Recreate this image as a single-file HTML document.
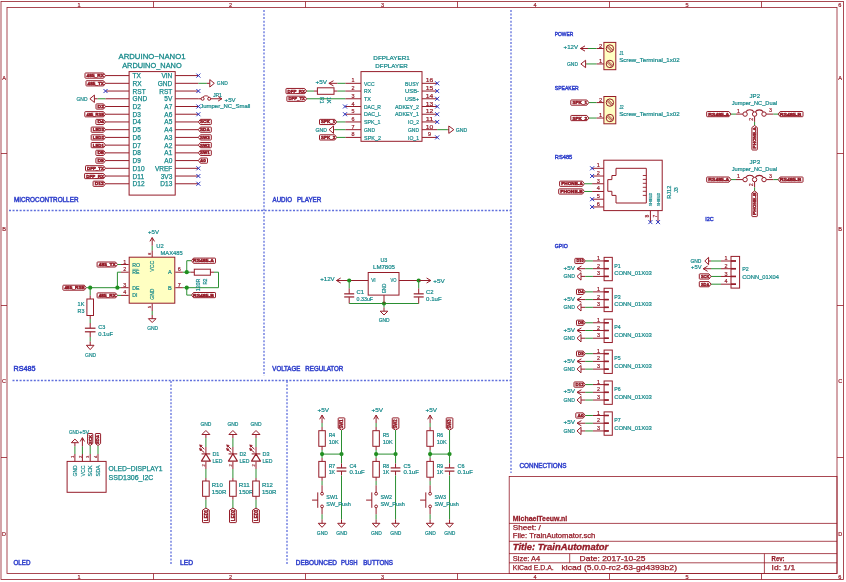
<!DOCTYPE html>
<html><head><meta charset="utf-8"><style>
html,body{margin:0;padding:0;background:#fff;width:846px;height:582px;overflow:hidden}
svg{display:block;will-change:transform}
text{font-family:"Liberation Sans",sans-serif}
</style></head><body>
<svg width="846" height="582" viewBox="0 0 846 582">
<rect x="0" y="0" width="846" height="582" fill="#fff"/>
<rect x="1" y="1.5" width="842.5" height="578" stroke="#951c28" stroke-width="0.8" fill="none" rx="0"/>
<rect x="7" y="7.5" width="830" height="566" stroke="#951c28" stroke-width="0.8" fill="none" rx="0"/>
<line x1="153.5" y1="1.5" x2="153.5" y2="7.5" stroke="#951c28" stroke-width="0.8"/>
<line x1="153.5" y1="573.5" x2="153.5" y2="579.5" stroke="#951c28" stroke-width="0.8"/>
<line x1="305.5" y1="1.5" x2="305.5" y2="7.5" stroke="#951c28" stroke-width="0.8"/>
<line x1="305.5" y1="573.5" x2="305.5" y2="579.5" stroke="#951c28" stroke-width="0.8"/>
<line x1="457.5" y1="1.5" x2="457.5" y2="7.5" stroke="#951c28" stroke-width="0.8"/>
<line x1="457.5" y1="573.5" x2="457.5" y2="579.5" stroke="#951c28" stroke-width="0.8"/>
<line x1="609.5" y1="1.5" x2="609.5" y2="7.5" stroke="#951c28" stroke-width="0.8"/>
<line x1="609.5" y1="573.5" x2="609.5" y2="579.5" stroke="#951c28" stroke-width="0.8"/>
<line x1="761.5" y1="1.5" x2="761.5" y2="7.5" stroke="#951c28" stroke-width="0.8"/>
<line x1="761.5" y1="573.5" x2="761.5" y2="579.5" stroke="#951c28" stroke-width="0.8"/>
<text x="79" y="6.6" font-size="5.56" fill="#951c28" text-anchor="middle" stroke="#951c28" stroke-width="0.2">1</text>
<text x="79" y="578.5" font-size="5.56" fill="#951c28" text-anchor="middle" stroke="#951c28" stroke-width="0.2">1</text>
<text x="230.5" y="6.6" font-size="5.56" fill="#951c28" text-anchor="middle" stroke="#951c28" stroke-width="0.2">2</text>
<text x="230.5" y="578.5" font-size="5.56" fill="#951c28" text-anchor="middle" stroke="#951c28" stroke-width="0.2">2</text>
<text x="382.5" y="6.6" font-size="5.56" fill="#951c28" text-anchor="middle" stroke="#951c28" stroke-width="0.2">3</text>
<text x="382.5" y="578.5" font-size="5.56" fill="#951c28" text-anchor="middle" stroke="#951c28" stroke-width="0.2">3</text>
<text x="535" y="6.6" font-size="5.56" fill="#951c28" text-anchor="middle" stroke="#951c28" stroke-width="0.2">4</text>
<text x="535" y="578.5" font-size="5.56" fill="#951c28" text-anchor="middle" stroke="#951c28" stroke-width="0.2">4</text>
<text x="687" y="6.6" font-size="5.56" fill="#951c28" text-anchor="middle" stroke="#951c28" stroke-width="0.2">5</text>
<text x="687" y="578.5" font-size="5.56" fill="#951c28" text-anchor="middle" stroke="#951c28" stroke-width="0.2">5</text>
<text x="839.7" y="6.6" font-size="5.56" fill="#951c28" text-anchor="middle" stroke="#951c28" stroke-width="0.2">6</text>
<text x="839.7" y="578.5" font-size="5.56" fill="#951c28" text-anchor="middle" stroke="#951c28" stroke-width="0.2">6</text>
<line x1="1" y1="153.5" x2="7" y2="153.5" stroke="#951c28" stroke-width="0.8"/>
<line x1="837" y1="153.5" x2="843.5" y2="153.5" stroke="#951c28" stroke-width="0.8"/>
<line x1="1" y1="305.5" x2="7" y2="305.5" stroke="#951c28" stroke-width="0.8"/>
<line x1="837" y1="305.5" x2="843.5" y2="305.5" stroke="#951c28" stroke-width="0.8"/>
<line x1="1" y1="457.5" x2="7" y2="457.5" stroke="#951c28" stroke-width="0.8"/>
<line x1="837" y1="457.5" x2="843.5" y2="457.5" stroke="#951c28" stroke-width="0.8"/>
<text x="4.1" y="79.5" font-size="5.56" fill="#951c28" text-anchor="middle" stroke="#951c28" stroke-width="0.2">A</text>
<text x="840.2" y="79.5" font-size="5.56" fill="#951c28" text-anchor="middle" stroke="#951c28" stroke-width="0.2">A</text>
<text x="4.1" y="230.5" font-size="5.56" fill="#951c28" text-anchor="middle" stroke="#951c28" stroke-width="0.2">B</text>
<text x="840.2" y="230.5" font-size="5.56" fill="#951c28" text-anchor="middle" stroke="#951c28" stroke-width="0.2">B</text>
<text x="4.1" y="383" font-size="5.56" fill="#951c28" text-anchor="middle" stroke="#951c28" stroke-width="0.2">C</text>
<text x="840.2" y="383" font-size="5.56" fill="#951c28" text-anchor="middle" stroke="#951c28" stroke-width="0.2">C</text>
<text x="4.1" y="535.5" font-size="5.56" fill="#951c28" text-anchor="middle" stroke="#951c28" stroke-width="0.2">D</text>
<text x="840.2" y="535.5" font-size="5.56" fill="#951c28" text-anchor="middle" stroke="#951c28" stroke-width="0.2">D</text>
<line x1="9" y1="210.5" x2="511" y2="210.5" stroke="#5f6fdc" stroke-width="1.3" stroke-dasharray="2,1.55"/>
<line x1="264" y1="10" x2="264" y2="376" stroke="#5f6fdc" stroke-width="1.3" stroke-dasharray="2,1.55"/>
<line x1="511" y1="10" x2="511" y2="473" stroke="#5f6fdc" stroke-width="1.3" stroke-dasharray="2,1.55"/>
<line x1="12.5" y1="380.5" x2="511" y2="380.5" stroke="#5f6fdc" stroke-width="1.3" stroke-dasharray="2,1.55"/>
<line x1="171" y1="381" x2="171" y2="565" stroke="#5f6fdc" stroke-width="1.3" stroke-dasharray="2,1.55"/>
<line x1="287" y1="381" x2="287" y2="565" stroke="#5f6fdc" stroke-width="1.3" stroke-dasharray="2,1.55"/>
<text x="13.9" y="201.5" font-size="6.39" fill="#3343cc" text-anchor="start" textLength="64.6" lengthAdjust="spacingAndGlyphs" stroke="#3343cc" stroke-width="0.45">MICROCONTROLLER</text>
<text x="272.6" y="201.5" font-size="6.39" fill="#3343cc" text-anchor="start" textLength="19.4" lengthAdjust="spacingAndGlyphs" stroke="#3343cc" stroke-width="0.45">AUDIO</text>
<text x="296.9" y="201.5" font-size="6.39" fill="#3343cc" text-anchor="start" textLength="24.5" lengthAdjust="spacingAndGlyphs" stroke="#3343cc" stroke-width="0.45">PLAYER</text>
<text x="13.5" y="371.1" font-size="6.39" fill="#3343cc" text-anchor="start" textLength="22" lengthAdjust="spacingAndGlyphs" stroke="#3343cc" stroke-width="0.45">RS485</text>
<text x="272.3" y="371.1" font-size="6.39" fill="#3343cc" text-anchor="start" textLength="28" lengthAdjust="spacingAndGlyphs" stroke="#3343cc" stroke-width="0.45">VOLTAGE</text>
<text x="305.3" y="371.1" font-size="6.39" fill="#3343cc" text-anchor="start" textLength="38" lengthAdjust="spacingAndGlyphs" stroke="#3343cc" stroke-width="0.45">REGULATOR</text>
<text x="13.5" y="564.6" font-size="6.39" fill="#3343cc" text-anchor="start" textLength="17" lengthAdjust="spacingAndGlyphs" stroke="#3343cc" stroke-width="0.45">OLED</text>
<text x="180" y="564.6" font-size="6.39" fill="#3343cc" text-anchor="start" textLength="13" lengthAdjust="spacingAndGlyphs" stroke="#3343cc" stroke-width="0.45">LED</text>
<text x="295.8" y="564.6" font-size="6.39" fill="#3343cc" text-anchor="start" textLength="41" lengthAdjust="spacingAndGlyphs" stroke="#3343cc" stroke-width="0.45">DEBOUNCED</text>
<text x="340.9" y="564.6" font-size="6.39" fill="#3343cc" text-anchor="start" textLength="16.7" lengthAdjust="spacingAndGlyphs" stroke="#3343cc" stroke-width="0.45">PUSH</text>
<text x="363.2" y="564.6" font-size="6.39" fill="#3343cc" text-anchor="start" textLength="29.8" lengthAdjust="spacingAndGlyphs" stroke="#3343cc" stroke-width="0.45">BUTTONS</text>
<text x="519.5" y="467.8" font-size="6.39" fill="#3343cc" text-anchor="start" textLength="47" lengthAdjust="spacingAndGlyphs" stroke="#3343cc" stroke-width="0.45">CONNECTIONS</text>
<rect x="509.2" y="476.5" width="327.8" height="97" stroke="#951c28" stroke-width="0.8" fill="none" rx="0"/>
<line x1="509" y1="523.4" x2="837" y2="523.4" stroke="#951c28" stroke-width="0.8"/>
<line x1="509" y1="541.3" x2="837" y2="541.3" stroke="#951c28" stroke-width="0.8"/>
<line x1="509" y1="553.6" x2="837" y2="553.6" stroke="#951c28" stroke-width="0.8"/>
<line x1="509" y1="562.8" x2="837" y2="562.8" stroke="#951c28" stroke-width="0.8"/>
<line x1="569.7" y1="553.6" x2="569.7" y2="562.8" stroke="#951c28" stroke-width="0.8"/>
<line x1="764.4" y1="553.6" x2="764.4" y2="573.5" stroke="#951c28" stroke-width="0.8"/>
<text x="512.8" y="520.9" font-size="7.22" fill="#951c28" text-anchor="start" textLength="54.5" lengthAdjust="spacingAndGlyphs" font-weight="bold" stroke="#951c28" stroke-width="0.26">MichaelTeeuw.nl</text>
<text x="512.8" y="530.4" font-size="6.94" fill="#951c28" text-anchor="start" textLength="28" lengthAdjust="spacingAndGlyphs" stroke="#951c28" stroke-width="0.25">Sheet: /</text>
<text x="512.8" y="538.2" font-size="6.94" fill="#951c28" text-anchor="start" textLength="82.5" lengthAdjust="spacingAndGlyphs" stroke="#951c28" stroke-width="0.25">File: TrainAutomator.sch</text>
<text x="512.8" y="550.4" font-size="9.44" fill="#951c28" text-anchor="start" textLength="95.5" lengthAdjust="spacingAndGlyphs" font-weight="bold" font-style="italic" stroke="#951c28" stroke-width="0.34">Title: TrainAutomator</text>
<text x="512.8" y="560.7" font-size="6.94" fill="#951c28" text-anchor="start" textLength="27.5" lengthAdjust="spacingAndGlyphs" stroke="#951c28" stroke-width="0.25">Size: A4</text>
<text x="579.6" y="560.7" font-size="6.94" fill="#951c28" text-anchor="start" textLength="65.8" lengthAdjust="spacingAndGlyphs" stroke="#951c28" stroke-width="0.25">Date: 2017-10-25</text>
<text x="512.8" y="569.5" font-size="6.94" fill="#951c28" text-anchor="start" textLength="41" lengthAdjust="spacingAndGlyphs" stroke="#951c28" stroke-width="0.25">KiCad E.D.A.</text>
<text x="561.5" y="569.5" font-size="6.94" fill="#951c28" text-anchor="start" textLength="115.5" lengthAdjust="spacingAndGlyphs" stroke="#951c28" stroke-width="0.25">kicad (5.0.0-rc2-63-gd4393b2)</text>
<text x="771.6" y="560.8" font-size="6.94" fill="#951c28" text-anchor="start" textLength="13" lengthAdjust="spacingAndGlyphs" font-weight="bold" stroke="#951c28" stroke-width="0.25">Rev:</text>
<text x="771.6" y="569.5" font-size="6.94" fill="#951c28" text-anchor="start" textLength="23.5" lengthAdjust="spacingAndGlyphs" stroke="#951c28" stroke-width="0.25">Id: 1/1</text>
<rect x="129.1" y="71.6" width="46.1" height="123.5" stroke="#951c28" stroke-width="1" fill="none" rx="0"/>
<text x="152" y="58.8" font-size="7.22" fill="#16898a" text-anchor="middle" textLength="67" lengthAdjust="spacingAndGlyphs" stroke="#16898a" stroke-width="0.26">ARDUINO−NANO1</text>
<text x="151.9" y="67.5" font-size="7.22" fill="#16898a" text-anchor="middle" textLength="59.5" lengthAdjust="spacingAndGlyphs" stroke="#16898a" stroke-width="0.26">ARDUINO_NANO</text>
<line x1="105.5" y1="75.59" x2="129.1" y2="75.59" stroke="#951c28" stroke-width="1"/>
<line x1="175.3" y1="75.59" x2="198.4" y2="75.59" stroke="#951c28" stroke-width="1"/>
<text x="132.6" y="78.09" font-size="6.94" fill="#16898a" text-anchor="start" textLength="8.34" lengthAdjust="spacingAndGlyphs" stroke="#16898a" stroke-width="0.25">TX</text>
<text x="172.3" y="78.09" font-size="6.94" fill="#16898a" text-anchor="end" textLength="10.88" lengthAdjust="spacingAndGlyphs" stroke="#16898a" stroke-width="0.25">VIN</text>
<line x1="105.5" y1="83.32" x2="129.1" y2="83.32" stroke="#951c28" stroke-width="1"/>
<line x1="175.3" y1="83.32" x2="198.4" y2="83.32" stroke="#951c28" stroke-width="1"/>
<text x="132.6" y="85.82" font-size="6.94" fill="#16898a" text-anchor="start" textLength="9.07" lengthAdjust="spacingAndGlyphs" stroke="#16898a" stroke-width="0.25">RX</text>
<text x="172.3" y="85.82" font-size="6.94" fill="#16898a" text-anchor="end" textLength="14.51" lengthAdjust="spacingAndGlyphs" stroke="#16898a" stroke-width="0.25">GND</text>
<line x1="105.5" y1="91.04" x2="129.1" y2="91.04" stroke="#951c28" stroke-width="1"/>
<line x1="175.3" y1="91.04" x2="198.4" y2="91.04" stroke="#951c28" stroke-width="1"/>
<text x="132.6" y="93.54" font-size="6.94" fill="#16898a" text-anchor="start" textLength="13.06" lengthAdjust="spacingAndGlyphs" stroke="#16898a" stroke-width="0.25">RST</text>
<text x="172.3" y="93.54" font-size="6.94" fill="#16898a" text-anchor="end" textLength="13.06" lengthAdjust="spacingAndGlyphs" stroke="#16898a" stroke-width="0.25">RST</text>
<line x1="105.5" y1="98.77" x2="129.1" y2="98.77" stroke="#951c28" stroke-width="1"/>
<line x1="175.3" y1="98.77" x2="198.4" y2="98.77" stroke="#951c28" stroke-width="1"/>
<text x="132.6" y="101.27" font-size="6.94" fill="#16898a" text-anchor="start" textLength="14.51" lengthAdjust="spacingAndGlyphs" stroke="#16898a" stroke-width="0.25">GND</text>
<text x="172.3" y="101.27" font-size="6.94" fill="#16898a" text-anchor="end" textLength="7.98" lengthAdjust="spacingAndGlyphs" stroke="#16898a" stroke-width="0.25">5V</text>
<line x1="105.5" y1="106.5" x2="129.1" y2="106.5" stroke="#951c28" stroke-width="1"/>
<line x1="175.3" y1="106.5" x2="198.4" y2="106.5" stroke="#951c28" stroke-width="1"/>
<text x="132.6" y="109" font-size="6.94" fill="#16898a" text-anchor="start" textLength="8.34" lengthAdjust="spacingAndGlyphs" stroke="#16898a" stroke-width="0.25">D2</text>
<text x="172.3" y="109" font-size="6.94" fill="#16898a" text-anchor="end" textLength="7.98" lengthAdjust="spacingAndGlyphs" stroke="#16898a" stroke-width="0.25">A7</text>
<line x1="105.5" y1="114.23" x2="129.1" y2="114.23" stroke="#951c28" stroke-width="1"/>
<line x1="175.3" y1="114.23" x2="198.4" y2="114.23" stroke="#951c28" stroke-width="1"/>
<text x="132.6" y="116.73" font-size="6.94" fill="#16898a" text-anchor="start" textLength="8.34" lengthAdjust="spacingAndGlyphs" stroke="#16898a" stroke-width="0.25">D3</text>
<text x="172.3" y="116.73" font-size="6.94" fill="#16898a" text-anchor="end" textLength="7.98" lengthAdjust="spacingAndGlyphs" stroke="#16898a" stroke-width="0.25">A6</text>
<line x1="105.5" y1="121.95" x2="129.1" y2="121.95" stroke="#951c28" stroke-width="1"/>
<line x1="175.3" y1="121.95" x2="198.4" y2="121.95" stroke="#951c28" stroke-width="1"/>
<text x="132.6" y="124.45" font-size="6.94" fill="#16898a" text-anchor="start" textLength="8.34" lengthAdjust="spacingAndGlyphs" stroke="#16898a" stroke-width="0.25">D4</text>
<text x="172.3" y="124.45" font-size="6.94" fill="#16898a" text-anchor="end" textLength="7.98" lengthAdjust="spacingAndGlyphs" stroke="#16898a" stroke-width="0.25">A5</text>
<line x1="105.5" y1="129.68" x2="129.1" y2="129.68" stroke="#951c28" stroke-width="1"/>
<line x1="175.3" y1="129.68" x2="198.4" y2="129.68" stroke="#951c28" stroke-width="1"/>
<text x="132.6" y="132.18" font-size="6.94" fill="#16898a" text-anchor="start" textLength="8.34" lengthAdjust="spacingAndGlyphs" stroke="#16898a" stroke-width="0.25">D5</text>
<text x="172.3" y="132.18" font-size="6.94" fill="#16898a" text-anchor="end" textLength="7.98" lengthAdjust="spacingAndGlyphs" stroke="#16898a" stroke-width="0.25">A4</text>
<line x1="105.5" y1="137.41" x2="129.1" y2="137.41" stroke="#951c28" stroke-width="1"/>
<line x1="175.3" y1="137.41" x2="198.4" y2="137.41" stroke="#951c28" stroke-width="1"/>
<text x="132.6" y="139.91" font-size="6.94" fill="#16898a" text-anchor="start" textLength="8.34" lengthAdjust="spacingAndGlyphs" stroke="#16898a" stroke-width="0.25">D6</text>
<text x="172.3" y="139.91" font-size="6.94" fill="#16898a" text-anchor="end" textLength="7.98" lengthAdjust="spacingAndGlyphs" stroke="#16898a" stroke-width="0.25">A3</text>
<line x1="105.5" y1="145.13" x2="129.1" y2="145.13" stroke="#951c28" stroke-width="1"/>
<line x1="175.3" y1="145.13" x2="198.4" y2="145.13" stroke="#951c28" stroke-width="1"/>
<text x="132.6" y="147.63" font-size="6.94" fill="#16898a" text-anchor="start" textLength="8.34" lengthAdjust="spacingAndGlyphs" stroke="#16898a" stroke-width="0.25">D7</text>
<text x="172.3" y="147.63" font-size="6.94" fill="#16898a" text-anchor="end" textLength="7.98" lengthAdjust="spacingAndGlyphs" stroke="#16898a" stroke-width="0.25">A2</text>
<line x1="105.5" y1="152.86" x2="129.1" y2="152.86" stroke="#951c28" stroke-width="1"/>
<line x1="175.3" y1="152.86" x2="198.4" y2="152.86" stroke="#951c28" stroke-width="1"/>
<text x="132.6" y="155.36" font-size="6.94" fill="#16898a" text-anchor="start" textLength="8.34" lengthAdjust="spacingAndGlyphs" stroke="#16898a" stroke-width="0.25">D8</text>
<text x="172.3" y="155.36" font-size="6.94" fill="#16898a" text-anchor="end" textLength="7.98" lengthAdjust="spacingAndGlyphs" stroke="#16898a" stroke-width="0.25">A1</text>
<line x1="105.5" y1="160.59" x2="129.1" y2="160.59" stroke="#951c28" stroke-width="1"/>
<line x1="175.3" y1="160.59" x2="198.4" y2="160.59" stroke="#951c28" stroke-width="1"/>
<text x="132.6" y="163.09" font-size="6.94" fill="#16898a" text-anchor="start" textLength="8.34" lengthAdjust="spacingAndGlyphs" stroke="#16898a" stroke-width="0.25">D9</text>
<text x="172.3" y="163.09" font-size="6.94" fill="#16898a" text-anchor="end" textLength="7.98" lengthAdjust="spacingAndGlyphs" stroke="#16898a" stroke-width="0.25">A0</text>
<line x1="105.5" y1="168.31" x2="129.1" y2="168.31" stroke="#951c28" stroke-width="1"/>
<line x1="175.3" y1="168.31" x2="198.4" y2="168.31" stroke="#951c28" stroke-width="1"/>
<text x="132.6" y="170.81" font-size="6.94" fill="#16898a" text-anchor="start" textLength="11.98" lengthAdjust="spacingAndGlyphs" stroke="#16898a" stroke-width="0.25">D10</text>
<text x="172.3" y="170.81" font-size="6.94" fill="#16898a" text-anchor="end" textLength="17.41" lengthAdjust="spacingAndGlyphs" stroke="#16898a" stroke-width="0.25">VREF</text>
<line x1="105.5" y1="176.04" x2="129.1" y2="176.04" stroke="#951c28" stroke-width="1"/>
<line x1="175.3" y1="176.04" x2="198.4" y2="176.04" stroke="#951c28" stroke-width="1"/>
<text x="132.6" y="178.54" font-size="6.94" fill="#16898a" text-anchor="start" textLength="11.49" lengthAdjust="spacingAndGlyphs" stroke="#16898a" stroke-width="0.25">D11</text>
<text x="172.3" y="178.54" font-size="6.94" fill="#16898a" text-anchor="end" textLength="11.62" lengthAdjust="spacingAndGlyphs" stroke="#16898a" stroke-width="0.25">3V3</text>
<line x1="105.5" y1="183.77" x2="129.1" y2="183.77" stroke="#951c28" stroke-width="1"/>
<line x1="175.3" y1="183.77" x2="198.4" y2="183.77" stroke="#951c28" stroke-width="1"/>
<text x="132.6" y="186.27" font-size="6.94" fill="#16898a" text-anchor="start" textLength="11.98" lengthAdjust="spacingAndGlyphs" stroke="#16898a" stroke-width="0.25">D12</text>
<text x="172.3" y="186.27" font-size="6.94" fill="#16898a" text-anchor="end" textLength="11.98" lengthAdjust="spacingAndGlyphs" stroke="#16898a" stroke-width="0.25">D13</text>
<path d="M85.6,72.99 L103.5,72.99 L105.5,75.59 L103.5,78.19 L85.6,78.19 Q85,78.19 85,77.59 L85,73.59 Q85,72.99 85.6,72.99 Z" stroke="#951c28" stroke-width="1" fill="none" stroke-linejoin="round"/>
<text x="95.25" y="77.05" font-size="4.04" fill="#951c28" text-anchor="middle" textLength="17.3" lengthAdjust="spacingAndGlyphs" font-weight="bold" stroke="#951c28" stroke-width="0.45">485_RX</text>
<path d="M86.6,80.72 L103.5,80.72 L105.5,83.32 L103.5,85.92 L86.6,85.92 Q86,85.92 86,85.32 L86,81.32 Q86,80.72 86.6,80.72 Z" stroke="#951c28" stroke-width="1" fill="none" stroke-linejoin="round"/>
<text x="95.75" y="84.77" font-size="4.04" fill="#951c28" text-anchor="middle" textLength="16.3" lengthAdjust="spacingAndGlyphs" font-weight="bold" stroke="#951c28" stroke-width="0.45">485_TX</text>
<path d="M96.6,103.9 L103.5,103.9 L105.5,106.5 L103.5,109.1 L96.6,109.1 Q96,109.1 96,108.5 L96,104.5 Q96,103.9 96.6,103.9 Z" stroke="#951c28" stroke-width="1" fill="none" stroke-linejoin="round"/>
<text x="100.75" y="107.95" font-size="4.04" fill="#951c28" text-anchor="middle" textLength="6.3" lengthAdjust="spacingAndGlyphs" font-weight="bold" stroke="#951c28" stroke-width="0.45">D2</text>
<path d="M85.4,111.63 L103.5,111.63 L105.5,114.23 L103.5,116.83 L85.4,116.83 Q84.8,116.83 84.8,116.23 L84.8,112.23 Q84.8,111.63 85.4,111.63 Z" stroke="#951c28" stroke-width="1" fill="none" stroke-linejoin="round"/>
<text x="95.15" y="115.68" font-size="4.04" fill="#951c28" text-anchor="middle" textLength="17.5" lengthAdjust="spacingAndGlyphs" font-weight="bold" stroke="#951c28" stroke-width="0.45">485_RSE</text>
<path d="M96.5,119.35 L103.5,119.35 L105.5,121.95 L103.5,124.55 L96.5,124.55 Q95.9,124.55 95.9,123.95 L95.9,119.95 Q95.9,119.35 96.5,119.35 Z" stroke="#951c28" stroke-width="1" fill="none" stroke-linejoin="round"/>
<text x="100.7" y="123.41" font-size="4.04" fill="#951c28" text-anchor="middle" textLength="6.4" lengthAdjust="spacingAndGlyphs" font-weight="bold" stroke="#951c28" stroke-width="0.45">D4</text>
<path d="M91.8,127.08 L103.5,127.08 L105.5,129.68 L103.5,132.28 L91.8,132.28 Q91.2,132.28 91.2,131.68 L91.2,127.68 Q91.2,127.08 91.8,127.08 Z" stroke="#951c28" stroke-width="1" fill="none" stroke-linejoin="round"/>
<text x="98.35" y="131.13" font-size="4.04" fill="#951c28" text-anchor="middle" textLength="11.1" lengthAdjust="spacingAndGlyphs" font-weight="bold" stroke="#951c28" stroke-width="0.45">LED3</text>
<path d="M91.8,134.81 L103.5,134.81 L105.5,137.41 L103.5,140.01 L91.8,140.01 Q91.2,140.01 91.2,139.41 L91.2,135.41 Q91.2,134.81 91.8,134.81 Z" stroke="#951c28" stroke-width="1" fill="none" stroke-linejoin="round"/>
<text x="98.35" y="138.86" font-size="4.04" fill="#951c28" text-anchor="middle" textLength="11.1" lengthAdjust="spacingAndGlyphs" font-weight="bold" stroke="#951c28" stroke-width="0.45">LED2</text>
<path d="M91.8,142.53 L103.5,142.53 L105.5,145.13 L103.5,147.73 L91.8,147.73 Q91.2,147.73 91.2,147.13 L91.2,143.13 Q91.2,142.53 91.8,142.53 Z" stroke="#951c28" stroke-width="1" fill="none" stroke-linejoin="round"/>
<text x="98.35" y="146.59" font-size="4.04" fill="#951c28" text-anchor="middle" textLength="11.1" lengthAdjust="spacingAndGlyphs" font-weight="bold" stroke="#951c28" stroke-width="0.45">LED1</text>
<path d="M96.5,150.26 L103.5,150.26 L105.5,152.86 L103.5,155.46 L96.5,155.46 Q95.9,155.46 95.9,154.86 L95.9,150.86 Q95.9,150.26 96.5,150.26 Z" stroke="#951c28" stroke-width="1" fill="none" stroke-linejoin="round"/>
<text x="100.7" y="154.32" font-size="4.04" fill="#951c28" text-anchor="middle" textLength="6.4" lengthAdjust="spacingAndGlyphs" font-weight="bold" stroke="#951c28" stroke-width="0.45">D8</text>
<path d="M96.5,157.99 L103.5,157.99 L105.5,160.59 L103.5,163.19 L96.5,163.19 Q95.9,163.19 95.9,162.59 L95.9,158.59 Q95.9,157.99 96.5,157.99 Z" stroke="#951c28" stroke-width="1" fill="none" stroke-linejoin="round"/>
<text x="100.7" y="162.04" font-size="4.04" fill="#951c28" text-anchor="middle" textLength="6.4" lengthAdjust="spacingAndGlyphs" font-weight="bold" stroke="#951c28" stroke-width="0.45">D9</text>
<path d="M86.1,165.71 L103.5,165.71 L105.5,168.31 L103.5,170.91 L86.1,170.91 Q85.5,170.91 85.5,170.31 L85.5,166.31 Q85.5,165.71 86.1,165.71 Z" stroke="#951c28" stroke-width="1" fill="none" stroke-linejoin="round"/>
<text x="95.5" y="169.77" font-size="4.04" fill="#951c28" text-anchor="middle" textLength="16.8" lengthAdjust="spacingAndGlyphs" font-weight="bold" stroke="#951c28" stroke-width="0.45">DFP_TX</text>
<path d="M85.2,173.44 L103.5,173.44 L105.5,176.04 L103.5,178.64 L85.2,178.64 Q84.6,178.64 84.6,178.04 L84.6,174.04 Q84.6,173.44 85.2,173.44 Z" stroke="#951c28" stroke-width="1" fill="none" stroke-linejoin="round"/>
<text x="95.05" y="177.5" font-size="4.04" fill="#951c28" text-anchor="middle" textLength="17.7" lengthAdjust="spacingAndGlyphs" font-weight="bold" stroke="#951c28" stroke-width="0.45">DFP_RX</text>
<path d="M93.7,181.17 L103.5,181.17 L105.5,183.77 L103.5,186.37 L93.7,186.37 Q93.1,186.37 93.1,185.77 L93.1,181.77 Q93.1,181.17 93.7,181.17 Z" stroke="#951c28" stroke-width="1" fill="none" stroke-linejoin="round"/>
<text x="99.3" y="185.22" font-size="4.04" fill="#951c28" text-anchor="middle" textLength="9.2" lengthAdjust="spacingAndGlyphs" font-weight="bold" stroke="#951c28" stroke-width="0.45">D12</text>
<line x1="103.5" y1="89.04" x2="107.5" y2="93.04" stroke="#2a35c0" stroke-width="1"/>
<line x1="103.5" y1="93.04" x2="107.5" y2="89.04" stroke="#2a35c0" stroke-width="1"/>
<polyline points="97.6,98.77 105.5,98.77" stroke="#2a8f32" stroke-width="1" fill="none" stroke-linejoin="round"/>
<line x1="97.6" y1="98.77" x2="94.4" y2="98.77" stroke="#951c28" stroke-width="1"/>
<polygon points="94.4,95.07 94.4,102.47 89.9,98.77" stroke="#951c28" stroke-width="1" fill="none" stroke-linejoin="round"/>
<text x="82" y="100.77" font-size="5" fill="#16898a" text-anchor="middle" textLength="11" lengthAdjust="spacingAndGlyphs" stroke="#16898a" stroke-width="0.18">GND</text>
<line x1="196.4" y1="73.59" x2="200.4" y2="77.59" stroke="#2a35c0" stroke-width="1"/>
<line x1="196.4" y1="77.59" x2="200.4" y2="73.59" stroke="#2a35c0" stroke-width="1"/>
<line x1="196.4" y1="89.04" x2="200.4" y2="93.04" stroke="#2a35c0" stroke-width="1"/>
<line x1="196.4" y1="93.04" x2="200.4" y2="89.04" stroke="#2a35c0" stroke-width="1"/>
<line x1="196.4" y1="104.5" x2="200.4" y2="108.5" stroke="#2a35c0" stroke-width="1"/>
<line x1="196.4" y1="108.5" x2="200.4" y2="104.5" stroke="#2a35c0" stroke-width="1"/>
<line x1="196.4" y1="112.23" x2="200.4" y2="116.23" stroke="#2a35c0" stroke-width="1"/>
<line x1="196.4" y1="116.23" x2="200.4" y2="112.23" stroke="#2a35c0" stroke-width="1"/>
<line x1="196.4" y1="166.31" x2="200.4" y2="170.31" stroke="#2a35c0" stroke-width="1"/>
<line x1="196.4" y1="170.31" x2="200.4" y2="166.31" stroke="#2a35c0" stroke-width="1"/>
<line x1="196.4" y1="174.04" x2="200.4" y2="178.04" stroke="#2a35c0" stroke-width="1"/>
<line x1="196.4" y1="178.04" x2="200.4" y2="174.04" stroke="#2a35c0" stroke-width="1"/>
<line x1="196.4" y1="181.77" x2="200.4" y2="185.77" stroke="#2a35c0" stroke-width="1"/>
<line x1="196.4" y1="185.77" x2="200.4" y2="181.77" stroke="#2a35c0" stroke-width="1"/>
<polyline points="198.4,83.32 206.9,83.32" stroke="#2a8f32" stroke-width="1" fill="none" stroke-linejoin="round"/>
<line x1="206.9" y1="83.32" x2="209.8" y2="83.32" stroke="#951c28" stroke-width="1"/>
<polygon points="209.8,79.62 209.8,87.02 214.3,83.32" stroke="#951c28" stroke-width="1" fill="none" stroke-linejoin="round"/>
<text x="222.3" y="85.12" font-size="5" fill="#16898a" text-anchor="middle" textLength="11" lengthAdjust="spacingAndGlyphs" stroke="#16898a" stroke-width="0.18">GND</text>
<path d="M210.7,119.35 L200.4,119.35 L198.4,121.95 L200.4,124.55 L210.7,124.55 Q211.3,124.55 211.3,123.95 L211.3,119.95 Q211.3,119.35 210.7,119.35 Z" stroke="#951c28" stroke-width="1" fill="none" stroke-linejoin="round"/>
<text x="204.85" y="123.41" font-size="4.04" fill="#951c28" text-anchor="middle" textLength="9.7" lengthAdjust="spacingAndGlyphs" font-weight="bold" stroke="#951c28" stroke-width="0.45">SCK</text>
<path d="M210.7,127.08 L200.4,127.08 L198.4,129.68 L200.4,132.28 L210.7,132.28 Q211.3,132.28 211.3,131.68 L211.3,127.68 Q211.3,127.08 210.7,127.08 Z" stroke="#951c28" stroke-width="1" fill="none" stroke-linejoin="round"/>
<text x="204.85" y="131.13" font-size="4.04" fill="#951c28" text-anchor="middle" textLength="9.7" lengthAdjust="spacingAndGlyphs" font-weight="bold" stroke="#951c28" stroke-width="0.45">SDA</text>
<path d="M210.7,134.81 L200.4,134.81 L198.4,137.41 L200.4,140.01 L210.7,140.01 Q211.3,140.01 211.3,139.41 L211.3,135.41 Q211.3,134.81 210.7,134.81 Z" stroke="#951c28" stroke-width="1" fill="none" stroke-linejoin="round"/>
<text x="204.85" y="138.86" font-size="4.04" fill="#951c28" text-anchor="middle" textLength="9.7" lengthAdjust="spacingAndGlyphs" font-weight="bold" stroke="#951c28" stroke-width="0.45">SW3</text>
<path d="M210.7,142.53 L200.4,142.53 L198.4,145.13 L200.4,147.73 L210.7,147.73 Q211.3,147.73 211.3,147.13 L211.3,143.13 Q211.3,142.53 210.7,142.53 Z" stroke="#951c28" stroke-width="1" fill="none" stroke-linejoin="round"/>
<text x="204.85" y="146.59" font-size="4.04" fill="#951c28" text-anchor="middle" textLength="9.7" lengthAdjust="spacingAndGlyphs" font-weight="bold" stroke="#951c28" stroke-width="0.45">SW2</text>
<path d="M210.7,150.26 L200.4,150.26 L198.4,152.86 L200.4,155.46 L210.7,155.46 Q211.3,155.46 211.3,154.86 L211.3,150.86 Q211.3,150.26 210.7,150.26 Z" stroke="#951c28" stroke-width="1" fill="none" stroke-linejoin="round"/>
<text x="204.85" y="154.32" font-size="4.04" fill="#951c28" text-anchor="middle" textLength="9.7" lengthAdjust="spacingAndGlyphs" font-weight="bold" stroke="#951c28" stroke-width="0.45">SW1</text>
<path d="M206.9,157.99 L200.4,157.99 L198.4,160.59 L200.4,163.19 L206.9,163.19 Q207.5,163.19 207.5,162.59 L207.5,158.59 Q207.5,157.99 206.9,157.99 Z" stroke="#951c28" stroke-width="1" fill="none" stroke-linejoin="round"/>
<text x="202.95" y="162.04" font-size="4.04" fill="#951c28" text-anchor="middle" textLength="5.9" lengthAdjust="spacingAndGlyphs" font-weight="bold" stroke="#951c28" stroke-width="0.45">A0</text>
<line x1="198.4" y1="98.77" x2="201.1" y2="98.77" stroke="#951c28" stroke-width="1"/>
<circle cx="202.6" cy="98.77" r="1.5" stroke="#951c28" stroke-width="1" fill="none"/>
<circle cx="209.2" cy="98.77" r="1.5" stroke="#951c28" stroke-width="1" fill="none"/>
<path d="M202.9,97.27 A3.3,2.6 0 0 1 208.9,97.27" stroke="#951c28" stroke-width="0.9" fill="none"/>
<line x1="210.7" y1="98.77" x2="221.9" y2="98.77" stroke="#951c28" stroke-width="1"/>
<polyline points="218.1,96.47 221.9,98.77 218.1,101.07" stroke="#951c28" stroke-width="1" fill="none" stroke-linejoin="round"/>
<text x="217.5" y="96.8" font-size="5.28" fill="#16898a" text-anchor="middle" textLength="9" lengthAdjust="spacingAndGlyphs" stroke="#16898a" stroke-width="0.19">JP1</text>
<text x="224.6" y="101.8" font-size="5.28" fill="#16898a" text-anchor="start" textLength="11" lengthAdjust="spacingAndGlyphs" stroke="#16898a" stroke-width="0.19">+5V</text>
<text x="200.2" y="108.2" font-size="5.28" fill="#16898a" text-anchor="start" textLength="50.2" lengthAdjust="spacingAndGlyphs" stroke="#16898a" stroke-width="0.19">Jumper_NC_Small</text>
<text x="13.5" y="199.7" font-size="1.39" fill="#16898a" text-anchor="start" stroke="#16898a" stroke-width="0.05"></text>
<rect x="129.2" y="257.2" width="45.6" height="46" stroke="#951c28" stroke-width="1" fill="#ffffc2" rx="0"/>
<line x1="121" y1="264.5" x2="128.7" y2="264.5" stroke="#951c28" stroke-width="1"/>
<line x1="121" y1="272.2" x2="128.7" y2="272.2" stroke="#951c28" stroke-width="1"/>
<line x1="121" y1="287.7" x2="128.7" y2="287.7" stroke="#951c28" stroke-width="1"/>
<line x1="121" y1="295.4" x2="128.7" y2="295.4" stroke="#951c28" stroke-width="1"/>
<line x1="175.3" y1="272.2" x2="182.9" y2="272.2" stroke="#951c28" stroke-width="1"/>
<line x1="175.3" y1="287.7" x2="182.9" y2="287.7" stroke="#951c28" stroke-width="1"/>
<text x="124.8" y="263.55" font-size="5.42" fill="#951c28" text-anchor="middle" stroke="#951c28" stroke-width="0.2">1</text>
<text x="124.8" y="271.25" font-size="5.42" fill="#951c28" text-anchor="middle" stroke="#951c28" stroke-width="0.2">2</text>
<text x="124.8" y="286.75" font-size="5.42" fill="#951c28" text-anchor="middle" stroke="#951c28" stroke-width="0.2">3</text>
<text x="124.8" y="294.45" font-size="5.42" fill="#951c28" text-anchor="middle" stroke="#951c28" stroke-width="0.2">4</text>
<text x="179.3" y="271.25" font-size="5.42" fill="#951c28" text-anchor="middle" stroke="#951c28" stroke-width="0.2">6</text>
<text x="179.3" y="286.75" font-size="5.42" fill="#951c28" text-anchor="middle" stroke="#951c28" stroke-width="0.2">7</text>
<text x="132.3" y="266.5" font-size="5.56" fill="#16898a" text-anchor="start" textLength="7.83" lengthAdjust="spacingAndGlyphs" stroke="#16898a" stroke-width="0.2">RO</text>
<text x="132.3" y="274.2" font-size="5.56" fill="#16898a" text-anchor="start" textLength="7.25" lengthAdjust="spacingAndGlyphs" stroke="#16898a" stroke-width="0.2">RE</text>
<line x1="132.3" y1="269.3" x2="138.5" y2="269.3" stroke="#16898a" stroke-width="0.6"/>
<text x="132.3" y="289.7" font-size="5.56" fill="#16898a" text-anchor="start" textLength="7.25" lengthAdjust="spacingAndGlyphs" stroke="#16898a" stroke-width="0.2">DE</text>
<text x="132.3" y="297.4" font-size="5.56" fill="#16898a" text-anchor="start" textLength="5.22" lengthAdjust="spacingAndGlyphs" stroke="#16898a" stroke-width="0.2">DI</text>
<text x="171.8" y="274.2" font-size="5.56" fill="#16898a" text-anchor="end" stroke="#16898a" stroke-width="0.2">A</text>
<text x="171.8" y="289.7" font-size="5.56" fill="#16898a" text-anchor="end" stroke="#16898a" stroke-width="0.2">B</text>
<text x="152.2" y="268.2" font-size="5.56" fill="#16898a" text-anchor="middle" textLength="11" lengthAdjust="spacingAndGlyphs" transform="rotate(-90 152.2 266.2)" stroke="#16898a" stroke-width="0.2">VCC</text>
<text x="152.2" y="296.2" font-size="5.56" fill="#16898a" text-anchor="middle" textLength="11" lengthAdjust="spacingAndGlyphs" transform="rotate(-90 152.2 294.2)" stroke="#16898a" stroke-width="0.2">GND</text>
<path d="M97.7,262 L115.5,262 L117.5,264.5 L115.5,267 L97.7,267 Q97.1,267 97.1,266.4 L97.1,262.6 Q97.1,262 97.7,262 Z" stroke="#951c28" stroke-width="1" fill="none" stroke-linejoin="round"/>
<text x="107.3" y="265.9" font-size="3.89" fill="#951c28" text-anchor="middle" textLength="17.2" lengthAdjust="spacingAndGlyphs" font-weight="bold" stroke="#951c28" stroke-width="0.45">485_TX</text>
<path d="M97.7,292.9 L115.5,292.9 L117.5,295.4 L115.5,297.9 L97.7,297.9 Q97.1,297.9 97.1,297.3 L97.1,293.5 Q97.1,292.9 97.7,292.9 Z" stroke="#951c28" stroke-width="1" fill="none" stroke-linejoin="round"/>
<text x="107.3" y="296.8" font-size="3.89" fill="#951c28" text-anchor="middle" textLength="17.2" lengthAdjust="spacingAndGlyphs" font-weight="bold" stroke="#951c28" stroke-width="0.45">485_RX</text>
<polyline points="117.5,264.5 121,264.5" stroke="#2a8f32" stroke-width="1" fill="none" stroke-linejoin="round"/>
<polyline points="117.5,295.4 121,295.4" stroke="#2a8f32" stroke-width="1" fill="none" stroke-linejoin="round"/>
<polyline points="121,272.2 117.4,272.2 117.4,287.7" stroke="#2a8f32" stroke-width="1" fill="none" stroke-linejoin="round"/>
<polyline points="90.2,287.7 121,287.7" stroke="#2a8f32" stroke-width="1" fill="none" stroke-linejoin="round"/>
<circle cx="117.4" cy="287.7" r="2.1" fill="#1f8f1f"/>
<circle cx="90.2" cy="287.7" r="2.1" fill="#1f8f1f"/>
<path d="M63.5,285.2 L84.3,285.2 L86.3,287.7 L84.3,290.2 L63.5,290.2 Q62.9,290.2 62.9,289.6 L62.9,285.8 Q62.9,285.2 63.5,285.2 Z" stroke="#951c28" stroke-width="1" fill="none" stroke-linejoin="round"/>
<text x="74.6" y="289.1" font-size="3.89" fill="#951c28" text-anchor="middle" textLength="20.2" lengthAdjust="spacingAndGlyphs" font-weight="bold" stroke="#951c28" stroke-width="0.45">485_RSE</text>
<polyline points="86.3,287.7 90.2,287.7" stroke="#2a8f32" stroke-width="1" fill="none" stroke-linejoin="round"/>
<polyline points="90.2,287.7 90.2,295.5" stroke="#2a8f32" stroke-width="1" fill="none" stroke-linejoin="round"/>
<line x1="90.2" y1="295.5" x2="90.2" y2="299" stroke="#951c28" stroke-width="1"/>
<rect x="86.9" y="299" width="6.6" height="16.5" stroke="#951c28" stroke-width="1" fill="none" rx="0"/>
<line x1="90.2" y1="315.5" x2="90.2" y2="319" stroke="#951c28" stroke-width="1"/>
<polyline points="90.2,319 90.2,323" stroke="#2a8f32" stroke-width="1" fill="none" stroke-linejoin="round"/>
<line x1="90.2" y1="323" x2="90.2" y2="328.2" stroke="#951c28" stroke-width="1"/>
<line x1="84.9" y1="328.2" x2="95.5" y2="328.2" stroke="#951c28" stroke-width="1.2"/>
<line x1="84.9" y1="331.8" x2="95.5" y2="331.8" stroke="#951c28" stroke-width="1.2"/>
<line x1="90.2" y1="331.8" x2="90.2" y2="337" stroke="#951c28" stroke-width="1"/>
<polyline points="90.2,337 90.2,341.5" stroke="#2a8f32" stroke-width="1" fill="none" stroke-linejoin="round"/>
<line x1="90.2" y1="341.5" x2="90.2" y2="345.3" stroke="#951c28" stroke-width="1"/>
<polygon points="86.4,345.3 94,345.3 90.2,349.6" stroke="#951c28" stroke-width="1" fill="none" stroke-linejoin="round"/>
<text x="81" y="305.6" font-size="6.11" fill="#16898a" text-anchor="middle" textLength="6.8" lengthAdjust="spacingAndGlyphs" stroke="#16898a" stroke-width="0.22">1K</text>
<text x="81" y="312.6" font-size="6.11" fill="#16898a" text-anchor="middle" textLength="6.8" lengthAdjust="spacingAndGlyphs" stroke="#16898a" stroke-width="0.22">R3</text>
<text x="98.2" y="328.6" font-size="5.28" fill="#16898a" text-anchor="start" textLength="7" lengthAdjust="spacingAndGlyphs" stroke="#16898a" stroke-width="0.19">C3</text>
<text x="98.2" y="335.6" font-size="5.28" fill="#16898a" text-anchor="start" textLength="15" lengthAdjust="spacingAndGlyphs" stroke="#16898a" stroke-width="0.19">0.1uF</text>
<text x="90.6" y="357" font-size="5" fill="#16898a" text-anchor="middle" textLength="11" lengthAdjust="spacingAndGlyphs" stroke="#16898a" stroke-width="0.18">GND</text>
<line x1="152.2" y1="257.1" x2="152.2" y2="250.3" stroke="#951c28" stroke-width="1"/>
<polyline points="152.2,250.3 152.2,245.7" stroke="#2a8f32" stroke-width="1" fill="none" stroke-linejoin="round"/>
<line x1="152.2" y1="245.7" x2="152.2" y2="237.6" stroke="#951c28" stroke-width="1"/>
<polyline points="149.9,241.4 152.2,237.6 154.5,241.4" stroke="#951c28" stroke-width="1" fill="none" stroke-linejoin="round"/>
<text x="153.5" y="234.1" font-size="5.28" fill="#16898a" text-anchor="middle" textLength="11" lengthAdjust="spacingAndGlyphs" stroke="#16898a" stroke-width="0.19">+5V</text>
<text x="156.2" y="247.7" font-size="5.28" fill="#16898a" text-anchor="start" textLength="7.5" lengthAdjust="spacingAndGlyphs" stroke="#16898a" stroke-width="0.19">U2</text>
<text x="160.6" y="255.2" font-size="5.28" fill="#16898a" text-anchor="start" textLength="22" lengthAdjust="spacingAndGlyphs" stroke="#16898a" stroke-width="0.19">MAX485</text>
<text x="150" y="255.3" font-size="4.17" fill="#951c28" text-anchor="middle" transform="rotate(-90 150 253.8)" stroke="#951c28" stroke-width="0.15">8</text>
<line x1="152.2" y1="303.5" x2="152.2" y2="311" stroke="#951c28" stroke-width="1"/>
<polyline points="152.2,311 152.2,315" stroke="#2a8f32" stroke-width="1" fill="none" stroke-linejoin="round"/>
<line x1="152.2" y1="315" x2="152.2" y2="318.7" stroke="#951c28" stroke-width="1"/>
<polygon points="148.4,318.7 156,318.7 152.2,322.5" stroke="#951c28" stroke-width="1" fill="none" stroke-linejoin="round"/>
<text x="152.7" y="330" font-size="5" fill="#16898a" text-anchor="middle" textLength="11" lengthAdjust="spacingAndGlyphs" stroke="#16898a" stroke-width="0.18">GND</text>
<text x="150" y="308.7" font-size="4.17" fill="#951c28" text-anchor="middle" transform="rotate(-90 150 307.2)" stroke="#951c28" stroke-width="0.15">5</text>
<polyline points="182.9,272.2 190.5,272.2" stroke="#2a8f32" stroke-width="1" fill="none" stroke-linejoin="round"/>
<line x1="190.5" y1="272.2" x2="194.3" y2="272.2" stroke="#951c28" stroke-width="1"/>
<rect x="194.3" y="269.2" width="16.1" height="6" stroke="#951c28" stroke-width="1" fill="none" rx="0"/>
<line x1="210.4" y1="272.2" x2="214" y2="272.2" stroke="#951c28" stroke-width="1"/>
<polyline points="214,272.2 218.5,272.2 218.5,287.7 182.9,287.7" stroke="#2a8f32" stroke-width="1" fill="none" stroke-linejoin="round"/>
<polyline points="186.75,272.2 186.75,260.7 191.5,260.7" stroke="#2a8f32" stroke-width="1" fill="none" stroke-linejoin="round"/>
<polyline points="186.75,287.7 186.75,295.1 191.5,295.1" stroke="#2a8f32" stroke-width="1" fill="none" stroke-linejoin="round"/>
<circle cx="186.75" cy="272.2" r="2.1" fill="#1f8f1f"/>
<circle cx="186.75" cy="287.7" r="2.1" fill="#1f8f1f"/>
<path d="M214.9,258.1 L193.5,258.1 L191.5,260.7 L193.5,263.3 L214.9,263.3 Q215.5,263.3 215.5,262.7 L215.5,258.7 Q215.5,258.1 214.9,258.1 Z" stroke="#951c28" stroke-width="1" fill="none" stroke-linejoin="round"/>
<text x="203.5" y="262.16" font-size="4.04" fill="#951c28" text-anchor="middle" textLength="20.8" lengthAdjust="spacingAndGlyphs" font-weight="bold" stroke="#951c28" stroke-width="0.45">RS485-A</text>
<path d="M214.9,292.5 L193.5,292.5 L191.5,295.1 L193.5,297.7 L214.9,297.7 Q215.5,297.7 215.5,297.1 L215.5,293.1 Q215.5,292.5 214.9,292.5 Z" stroke="#951c28" stroke-width="1" fill="none" stroke-linejoin="round"/>
<text x="203.5" y="296.56" font-size="4.04" fill="#951c28" text-anchor="middle" textLength="20.8" lengthAdjust="spacingAndGlyphs" font-weight="bold" stroke="#951c28" stroke-width="0.45">RS485-B</text>
<text x="198.3" y="287.15" font-size="5.97" fill="#16898a" text-anchor="middle" textLength="12.6" lengthAdjust="spacingAndGlyphs" transform="rotate(-90 198.3 285)" stroke="#16898a" stroke-width="0.21">120R</text>
<text x="205.2" y="283.75" font-size="5.97" fill="#16898a" text-anchor="middle" textLength="6" lengthAdjust="spacingAndGlyphs" transform="rotate(-90 205.2 281.6)" stroke="#16898a" stroke-width="0.21">R2</text>
<rect x="361" y="71.6" width="61" height="69.7" stroke="#951c28" stroke-width="1" fill="none" rx="0"/>
<text x="391.6" y="59.6" font-size="6.11" fill="#16898a" text-anchor="middle" textLength="36.5" lengthAdjust="spacingAndGlyphs" stroke="#16898a" stroke-width="0.22">DFPLAYER1</text>
<text x="391.6" y="67.8" font-size="6.11" fill="#16898a" text-anchor="middle" textLength="32.5" lengthAdjust="spacingAndGlyphs" stroke="#16898a" stroke-width="0.22">DFPLAYER</text>
<line x1="345.3" y1="83.32" x2="361" y2="83.32" stroke="#951c28" stroke-width="1"/>
<line x1="422" y1="83.32" x2="437.2" y2="83.32" stroke="#951c28" stroke-width="1"/>
<text x="353" y="82.37" font-size="5.42" fill="#951c28" text-anchor="middle" stroke="#951c28" stroke-width="0.2">1</text>
<text x="429.6" y="82.37" font-size="5.42" fill="#951c28" text-anchor="middle" textLength="7.5" lengthAdjust="spacingAndGlyphs" stroke="#951c28" stroke-width="0.2">16</text>
<text x="364" y="85.52" font-size="6.11" fill="#16898a" text-anchor="start" textLength="10.5" lengthAdjust="spacingAndGlyphs" stroke="#16898a" stroke-width="0.22">VCC</text>
<text x="419" y="85.52" font-size="6.11" fill="#16898a" text-anchor="end" textLength="14" lengthAdjust="spacingAndGlyphs" stroke="#16898a" stroke-width="0.22">BUSY</text>
<line x1="345.3" y1="91.05" x2="361" y2="91.05" stroke="#951c28" stroke-width="1"/>
<line x1="422" y1="91.05" x2="437.2" y2="91.05" stroke="#951c28" stroke-width="1"/>
<text x="353" y="90.1" font-size="5.42" fill="#951c28" text-anchor="middle" stroke="#951c28" stroke-width="0.2">2</text>
<text x="429.6" y="90.1" font-size="5.42" fill="#951c28" text-anchor="middle" textLength="7.5" lengthAdjust="spacingAndGlyphs" stroke="#951c28" stroke-width="0.2">15</text>
<text x="364" y="93.25" font-size="6.11" fill="#16898a" text-anchor="start" textLength="7" lengthAdjust="spacingAndGlyphs" stroke="#16898a" stroke-width="0.22">RX</text>
<text x="419" y="93.25" font-size="6.11" fill="#16898a" text-anchor="end" textLength="14" lengthAdjust="spacingAndGlyphs" stroke="#16898a" stroke-width="0.22">USB-</text>
<line x1="345.3" y1="98.77" x2="361" y2="98.77" stroke="#951c28" stroke-width="1"/>
<line x1="422" y1="98.77" x2="437.2" y2="98.77" stroke="#951c28" stroke-width="1"/>
<text x="353" y="97.82" font-size="5.42" fill="#951c28" text-anchor="middle" stroke="#951c28" stroke-width="0.2">3</text>
<text x="429.6" y="97.82" font-size="5.42" fill="#951c28" text-anchor="middle" textLength="7.5" lengthAdjust="spacingAndGlyphs" stroke="#951c28" stroke-width="0.2">14</text>
<text x="364" y="100.97" font-size="6.11" fill="#16898a" text-anchor="start" textLength="7" lengthAdjust="spacingAndGlyphs" stroke="#16898a" stroke-width="0.22">TX</text>
<text x="419" y="100.97" font-size="6.11" fill="#16898a" text-anchor="end" textLength="14" lengthAdjust="spacingAndGlyphs" stroke="#16898a" stroke-width="0.22">USB+</text>
<line x1="345.3" y1="106.5" x2="361" y2="106.5" stroke="#951c28" stroke-width="1"/>
<line x1="422" y1="106.5" x2="437.2" y2="106.5" stroke="#951c28" stroke-width="1"/>
<text x="353" y="105.55" font-size="5.42" fill="#951c28" text-anchor="middle" stroke="#951c28" stroke-width="0.2">4</text>
<text x="429.6" y="105.55" font-size="5.42" fill="#951c28" text-anchor="middle" textLength="7.5" lengthAdjust="spacingAndGlyphs" stroke="#951c28" stroke-width="0.2">13</text>
<text x="364" y="108.7" font-size="6.11" fill="#16898a" text-anchor="start" textLength="17" lengthAdjust="spacingAndGlyphs" stroke="#16898a" stroke-width="0.22">DAC_R</text>
<text x="419" y="108.7" font-size="6.11" fill="#16898a" text-anchor="end" textLength="24" lengthAdjust="spacingAndGlyphs" stroke="#16898a" stroke-width="0.22">ADKEY_2</text>
<line x1="345.3" y1="114.23" x2="361" y2="114.23" stroke="#951c28" stroke-width="1"/>
<line x1="422" y1="114.23" x2="437.2" y2="114.23" stroke="#951c28" stroke-width="1"/>
<text x="353" y="113.28" font-size="5.42" fill="#951c28" text-anchor="middle" stroke="#951c28" stroke-width="0.2">5</text>
<text x="429.6" y="113.28" font-size="5.42" fill="#951c28" text-anchor="middle" textLength="7.5" lengthAdjust="spacingAndGlyphs" stroke="#951c28" stroke-width="0.2">12</text>
<text x="364" y="116.43" font-size="6.11" fill="#16898a" text-anchor="start" textLength="17" lengthAdjust="spacingAndGlyphs" stroke="#16898a" stroke-width="0.22">DAC_L</text>
<text x="419" y="116.43" font-size="6.11" fill="#16898a" text-anchor="end" textLength="24" lengthAdjust="spacingAndGlyphs" stroke="#16898a" stroke-width="0.22">ADKEY_1</text>
<line x1="345.3" y1="121.95" x2="361" y2="121.95" stroke="#951c28" stroke-width="1"/>
<line x1="422" y1="121.95" x2="437.2" y2="121.95" stroke="#951c28" stroke-width="1"/>
<text x="353" y="121" font-size="5.42" fill="#951c28" text-anchor="middle" stroke="#951c28" stroke-width="0.2">6</text>
<text x="429.6" y="121" font-size="5.42" fill="#951c28" text-anchor="middle" textLength="7.5" lengthAdjust="spacingAndGlyphs" stroke="#951c28" stroke-width="0.2">11</text>
<text x="364" y="124.16" font-size="6.11" fill="#16898a" text-anchor="start" textLength="16.5" lengthAdjust="spacingAndGlyphs" stroke="#16898a" stroke-width="0.22">SPK_1</text>
<text x="419" y="124.16" font-size="6.11" fill="#16898a" text-anchor="end" textLength="11" lengthAdjust="spacingAndGlyphs" stroke="#16898a" stroke-width="0.22">IO_2</text>
<line x1="345.3" y1="129.68" x2="361" y2="129.68" stroke="#951c28" stroke-width="1"/>
<line x1="422" y1="129.68" x2="437.2" y2="129.68" stroke="#951c28" stroke-width="1"/>
<text x="353" y="128.73" font-size="5.42" fill="#951c28" text-anchor="middle" stroke="#951c28" stroke-width="0.2">7</text>
<text x="429.6" y="128.73" font-size="5.42" fill="#951c28" text-anchor="middle" textLength="7.5" lengthAdjust="spacingAndGlyphs" stroke="#951c28" stroke-width="0.2">10</text>
<text x="364" y="131.88" font-size="6.11" fill="#16898a" text-anchor="start" textLength="11" lengthAdjust="spacingAndGlyphs" stroke="#16898a" stroke-width="0.22">GND</text>
<text x="419" y="131.88" font-size="6.11" fill="#16898a" text-anchor="end" textLength="11" lengthAdjust="spacingAndGlyphs" stroke="#16898a" stroke-width="0.22">GND</text>
<line x1="345.3" y1="137.41" x2="361" y2="137.41" stroke="#951c28" stroke-width="1"/>
<line x1="422" y1="137.41" x2="437.2" y2="137.41" stroke="#951c28" stroke-width="1"/>
<text x="353" y="136.46" font-size="5.42" fill="#951c28" text-anchor="middle" stroke="#951c28" stroke-width="0.2">8</text>
<text x="429.6" y="136.46" font-size="5.42" fill="#951c28" text-anchor="middle" stroke="#951c28" stroke-width="0.2">9</text>
<text x="364" y="139.61" font-size="6.11" fill="#16898a" text-anchor="start" textLength="17" lengthAdjust="spacingAndGlyphs" stroke="#16898a" stroke-width="0.22">SPK_2</text>
<text x="419" y="139.61" font-size="6.11" fill="#16898a" text-anchor="end" textLength="11" lengthAdjust="spacingAndGlyphs" stroke="#16898a" stroke-width="0.22">IO_1</text>
<line x1="435.2" y1="81.32" x2="439.2" y2="85.32" stroke="#2a35c0" stroke-width="1"/>
<line x1="435.2" y1="85.32" x2="439.2" y2="81.32" stroke="#2a35c0" stroke-width="1"/>
<line x1="435.2" y1="89.05" x2="439.2" y2="93.05" stroke="#2a35c0" stroke-width="1"/>
<line x1="435.2" y1="93.05" x2="439.2" y2="89.05" stroke="#2a35c0" stroke-width="1"/>
<line x1="435.2" y1="96.77" x2="439.2" y2="100.77" stroke="#2a35c0" stroke-width="1"/>
<line x1="435.2" y1="100.77" x2="439.2" y2="96.77" stroke="#2a35c0" stroke-width="1"/>
<line x1="435.2" y1="104.5" x2="439.2" y2="108.5" stroke="#2a35c0" stroke-width="1"/>
<line x1="435.2" y1="108.5" x2="439.2" y2="104.5" stroke="#2a35c0" stroke-width="1"/>
<line x1="435.2" y1="112.23" x2="439.2" y2="116.23" stroke="#2a35c0" stroke-width="1"/>
<line x1="435.2" y1="116.23" x2="439.2" y2="112.23" stroke="#2a35c0" stroke-width="1"/>
<line x1="435.2" y1="119.95" x2="439.2" y2="123.95" stroke="#2a35c0" stroke-width="1"/>
<line x1="435.2" y1="123.95" x2="439.2" y2="119.95" stroke="#2a35c0" stroke-width="1"/>
<line x1="435.2" y1="135.41" x2="439.2" y2="139.41" stroke="#2a35c0" stroke-width="1"/>
<line x1="435.2" y1="139.41" x2="439.2" y2="135.41" stroke="#2a35c0" stroke-width="1"/>
<polyline points="437.2,129.68 447.8,129.68" stroke="#2a8f32" stroke-width="1" fill="none" stroke-linejoin="round"/>
<line x1="447.8" y1="129.68" x2="448.8" y2="129.68" stroke="#951c28" stroke-width="1"/>
<polygon points="448.8,125.98 448.8,133.38 453.8,129.68" stroke="#951c28" stroke-width="1" fill="none" stroke-linejoin="round"/>
<text x="461.6" y="131.58" font-size="5.28" fill="#16898a" text-anchor="middle" textLength="11.5" lengthAdjust="spacingAndGlyphs" stroke="#16898a" stroke-width="0.19">GND</text>
<polyline points="337.3,83.32 345.3,83.32" stroke="#2a8f32" stroke-width="1" fill="none" stroke-linejoin="round"/>
<line x1="337.3" y1="83.32" x2="328.9" y2="83.32" stroke="#951c28" stroke-width="1"/>
<polyline points="333.5,80.72 328.9,83.32 333.5,85.92" stroke="#951c28" stroke-width="1" fill="none" stroke-linejoin="round"/>
<text x="321.2" y="83.5" font-size="5.28" fill="#16898a" text-anchor="middle" textLength="11.5" lengthAdjust="spacingAndGlyphs" stroke="#16898a" stroke-width="0.19">+5V</text>
<polyline points="337.3,91.05 345.3,91.05" stroke="#2a8f32" stroke-width="1" fill="none" stroke-linejoin="round"/>
<line x1="334" y1="91.05" x2="337.3" y2="91.05" stroke="#951c28" stroke-width="1"/>
<rect x="317.4" y="87.8" width="16.6" height="6.5" stroke="#951c28" stroke-width="1" fill="none" rx="0"/>
<line x1="314" y1="91.05" x2="317.4" y2="91.05" stroke="#951c28" stroke-width="1"/>
<polyline points="306.6,91.05 314,91.05" stroke="#2a8f32" stroke-width="1" fill="none" stroke-linejoin="round"/>
<path d="M286.6,88.45 L304.6,88.45 L306.6,91.05 L304.6,93.65 L286.6,93.65 Q286,93.65 286,93.05 L286,89.05 Q286,88.45 286.6,88.45 Z" stroke="#951c28" stroke-width="1" fill="none" stroke-linejoin="round"/>
<text x="296.3" y="92.5" font-size="4.04" fill="#951c28" text-anchor="middle" textLength="17.4" lengthAdjust="spacingAndGlyphs" font-weight="bold" stroke="#951c28" stroke-width="0.45">DFP_RX</text>
<polyline points="306.6,98.77 345.3,98.77" stroke="#2a8f32" stroke-width="1" fill="none" stroke-linejoin="round"/>
<path d="M287.5,96.17 L304.6,96.17 L306.6,98.77 L304.6,101.37 L287.5,101.37 Q286.9,101.37 286.9,100.77 L286.9,96.77 Q286.9,96.17 287.5,96.17 Z" stroke="#951c28" stroke-width="1" fill="none" stroke-linejoin="round"/>
<text x="296.75" y="100.23" font-size="4.04" fill="#951c28" text-anchor="middle" textLength="16.5" lengthAdjust="spacingAndGlyphs" font-weight="bold" stroke="#951c28" stroke-width="0.45">DFP_TX</text>
<text x="322.3" y="102.35" font-size="5.83" fill="#16898a" text-anchor="middle" textLength="6.3" lengthAdjust="spacingAndGlyphs" transform="rotate(90 322.3 100.25)" stroke="#16898a" stroke-width="0.21">R1</text>
<text x="329.2" y="102.35" font-size="5.83" fill="#16898a" text-anchor="middle" textLength="6.3" lengthAdjust="spacingAndGlyphs" transform="rotate(90 329.2 100.25)" stroke="#16898a" stroke-width="0.21">1K</text>
<line x1="343" y1="104.5" x2="347" y2="108.5" stroke="#2a35c0" stroke-width="1"/>
<line x1="343" y1="108.5" x2="347" y2="104.5" stroke="#2a35c0" stroke-width="1"/>
<line x1="343" y1="112.23" x2="347" y2="116.23" stroke="#2a35c0" stroke-width="1"/>
<line x1="343" y1="116.23" x2="347" y2="112.23" stroke="#2a35c0" stroke-width="1"/>
<path d="M320.1,119.36 L334.7,119.36 L336.7,121.95 L334.7,124.55 L320.1,124.55 Q319.5,124.55 319.5,123.95 L319.5,119.95 Q319.5,119.36 320.1,119.36 Z" stroke="#951c28" stroke-width="1" fill="none" stroke-linejoin="round"/>
<text x="328.1" y="123.41" font-size="4.04" fill="#951c28" text-anchor="middle" textLength="14" lengthAdjust="spacingAndGlyphs" font-weight="bold" stroke="#951c28" stroke-width="0.45">SPK_1</text>
<polyline points="336.7,121.95 345.3,121.95" stroke="#2a8f32" stroke-width="1" fill="none" stroke-linejoin="round"/>
<path d="M320.1,134.81 L334.7,134.81 L336.7,137.41 L334.7,140.01 L320.1,140.01 Q319.5,140.01 319.5,139.41 L319.5,135.41 Q319.5,134.81 320.1,134.81 Z" stroke="#951c28" stroke-width="1" fill="none" stroke-linejoin="round"/>
<text x="328.1" y="138.86" font-size="4.04" fill="#951c28" text-anchor="middle" textLength="14" lengthAdjust="spacingAndGlyphs" font-weight="bold" stroke="#951c28" stroke-width="0.45">SPK_2</text>
<polyline points="336.7,137.41 345.3,137.41" stroke="#2a8f32" stroke-width="1" fill="none" stroke-linejoin="round"/>
<polyline points="334.5,129.68 345.3,129.68" stroke="#2a8f32" stroke-width="1" fill="none" stroke-linejoin="round"/>
<line x1="334.5" y1="129.68" x2="333.5" y2="129.68" stroke="#951c28" stroke-width="1"/>
<polygon points="333.5,125.98 333.5,133.38 329.1,129.68" stroke="#951c28" stroke-width="1" fill="none" stroke-linejoin="round"/>
<text x="321.2" y="131.58" font-size="5.28" fill="#16898a" text-anchor="middle" textLength="11.5" lengthAdjust="spacingAndGlyphs" stroke="#16898a" stroke-width="0.19">GND</text>
<rect x="368.2" y="272.5" width="30.8" height="22.6" stroke="#951c28" stroke-width="1" fill="none" rx="0"/>
<line x1="349.2" y1="280.5" x2="368.2" y2="280.5" stroke="#951c28" stroke-width="1"/>
<line x1="349.2" y1="280.5" x2="336.5" y2="280.5" stroke="#951c28" stroke-width="1"/>
<polyline points="340.7,278 336.5,280.5 340.7,283" stroke="#951c28" stroke-width="1" fill="none" stroke-linejoin="round"/>
<text x="327.4" y="280.9" font-size="5.28" fill="#16898a" text-anchor="middle" textLength="14.5" lengthAdjust="spacingAndGlyphs" stroke="#16898a" stroke-width="0.19">+12V</text>
<circle cx="349.2" cy="280.5" r="2.1" fill="#1f8f1f"/>
<polyline points="349.2,280.5 349.2,288.4" stroke="#2a8f32" stroke-width="1" fill="none" stroke-linejoin="round"/>
<line x1="349.2" y1="288.4" x2="349.2" y2="293.9" stroke="#951c28" stroke-width="1"/>
<line x1="344.2" y1="293.85" x2="354.2" y2="293.85" stroke="#951c28" stroke-width="1.2"/>
<line x1="344.2" y1="296.95" x2="354.2" y2="296.95" stroke="#951c28" stroke-width="1.2"/>
<line x1="349.2" y1="297.2" x2="349.2" y2="303.5" stroke="#951c28" stroke-width="1"/>
<polyline points="349.2,303.5 418.7,303.5" stroke="#2a8f32" stroke-width="1" fill="none" stroke-linejoin="round"/>
<circle cx="384" cy="303.5" r="2.1" fill="#1f8f1f"/>
<line x1="384" y1="295.1" x2="384" y2="303.5" stroke="#951c28" stroke-width="1"/>
<polyline points="384,303.5 384,307.5" stroke="#2a8f32" stroke-width="1" fill="none" stroke-linejoin="round"/>
<line x1="384" y1="307.5" x2="384" y2="311.2" stroke="#951c28" stroke-width="1"/>
<polygon points="380.2,311.2 387.8,311.2 384,315" stroke="#951c28" stroke-width="1" fill="none" stroke-linejoin="round"/>
<text x="384.2" y="322.2" font-size="5.28" fill="#16898a" text-anchor="middle" textLength="11" lengthAdjust="spacingAndGlyphs" stroke="#16898a" stroke-width="0.19">GND</text>
<text x="356.6" y="294.2" font-size="5.56" fill="#16898a" text-anchor="start" textLength="7.5" lengthAdjust="spacingAndGlyphs" stroke="#16898a" stroke-width="0.2">C1</text>
<text x="356.6" y="300.8" font-size="5.56" fill="#16898a" text-anchor="start" textLength="16.5" lengthAdjust="spacingAndGlyphs" stroke="#16898a" stroke-width="0.2">0.33uF</text>
<line x1="399" y1="280.5" x2="418.7" y2="280.5" stroke="#951c28" stroke-width="1"/>
<circle cx="418.7" cy="280.5" r="2.1" fill="#1f8f1f"/>
<line x1="418.7" y1="280.5" x2="430.8" y2="280.5" stroke="#951c28" stroke-width="1"/>
<polyline points="426.6,278 430.8,280.5 426.6,283" stroke="#951c28" stroke-width="1" fill="none" stroke-linejoin="round"/>
<text x="439.1" y="283.3" font-size="5.28" fill="#16898a" text-anchor="middle" textLength="11.5" lengthAdjust="spacingAndGlyphs" stroke="#16898a" stroke-width="0.19">+5V</text>
<polyline points="418.7,280.5 418.7,288.4" stroke="#2a8f32" stroke-width="1" fill="none" stroke-linejoin="round"/>
<line x1="418.7" y1="288.4" x2="418.7" y2="293.9" stroke="#951c28" stroke-width="1"/>
<line x1="413.7" y1="293.85" x2="423.7" y2="293.85" stroke="#951c28" stroke-width="1.2"/>
<line x1="413.7" y1="296.95" x2="423.7" y2="296.95" stroke="#951c28" stroke-width="1.2"/>
<line x1="418.7" y1="297.2" x2="418.7" y2="303.5" stroke="#951c28" stroke-width="1"/>
<text x="426.1" y="294.2" font-size="5.56" fill="#16898a" text-anchor="start" textLength="7.5" lengthAdjust="spacingAndGlyphs" stroke="#16898a" stroke-width="0.2">C2</text>
<text x="426.1" y="300.8" font-size="5.56" fill="#16898a" text-anchor="start" textLength="15.5" lengthAdjust="spacingAndGlyphs" stroke="#16898a" stroke-width="0.2">0.1uF</text>
<text x="383.9" y="261.9" font-size="5.56" fill="#16898a" text-anchor="middle" textLength="7" lengthAdjust="spacingAndGlyphs" stroke="#16898a" stroke-width="0.2">U3</text>
<text x="384" y="268.5" font-size="5.56" fill="#16898a" text-anchor="middle" textLength="22" lengthAdjust="spacingAndGlyphs" stroke="#16898a" stroke-width="0.2">LM7805</text>
<text x="371.2" y="282.4" font-size="5.28" fill="#16898a" text-anchor="start" textLength="4.5" lengthAdjust="spacingAndGlyphs" stroke="#16898a" stroke-width="0.19">VI</text>
<text x="396.4" y="282.4" font-size="5.28" fill="#16898a" text-anchor="end" textLength="6" lengthAdjust="spacingAndGlyphs" stroke="#16898a" stroke-width="0.19">VO</text>
<text x="383.8" y="290.5" font-size="5.56" fill="#16898a" text-anchor="middle" textLength="9.5" lengthAdjust="spacingAndGlyphs" transform="rotate(-90 383.8 288.5)" stroke="#16898a" stroke-width="0.2">GND</text>
<rect x="67.1" y="461.4" width="39" height="30.9" stroke="#951c28" stroke-width="1" fill="none" rx="0"/>
<line x1="74.9" y1="461.4" x2="74.9" y2="454" stroke="#951c28" stroke-width="1"/>
<polyline points="74.9,454 74.9,446.2" stroke="#2a8f32" stroke-width="1" fill="none" stroke-linejoin="round"/>
<text x="72.6" y="458.3" font-size="4.17" fill="#951c28" text-anchor="middle" transform="rotate(-90 72.6 456.8)" stroke="#951c28" stroke-width="0.15">1</text>
<text x="74.9" y="473.05" font-size="5.97" fill="#16898a" text-anchor="middle" textLength="11" lengthAdjust="spacingAndGlyphs" transform="rotate(-90 74.9 470.9)" stroke="#16898a" stroke-width="0.21">GND</text>
<line x1="82.4" y1="461.4" x2="82.4" y2="454" stroke="#951c28" stroke-width="1"/>
<polyline points="82.4,454 82.4,446.2" stroke="#2a8f32" stroke-width="1" fill="none" stroke-linejoin="round"/>
<text x="80.1" y="458.3" font-size="4.17" fill="#951c28" text-anchor="middle" transform="rotate(-90 80.1 456.8)" stroke="#951c28" stroke-width="0.15">2</text>
<text x="82.4" y="473.05" font-size="5.97" fill="#16898a" text-anchor="middle" textLength="11" lengthAdjust="spacingAndGlyphs" transform="rotate(-90 82.4 470.9)" stroke="#16898a" stroke-width="0.21">VCC</text>
<line x1="90.2" y1="461.4" x2="90.2" y2="454" stroke="#951c28" stroke-width="1"/>
<polyline points="90.2,454 90.2,445.5" stroke="#2a8f32" stroke-width="1" fill="none" stroke-linejoin="round"/>
<text x="87.9" y="458.3" font-size="4.17" fill="#951c28" text-anchor="middle" transform="rotate(-90 87.9 456.8)" stroke="#951c28" stroke-width="0.15">3</text>
<text x="90.2" y="473.05" font-size="5.97" fill="#16898a" text-anchor="middle" textLength="11" lengthAdjust="spacingAndGlyphs" transform="rotate(-90 90.2 470.9)" stroke="#16898a" stroke-width="0.21">SCK</text>
<line x1="98" y1="461.4" x2="98" y2="454" stroke="#951c28" stroke-width="1"/>
<polyline points="98,454 98,445.5" stroke="#2a8f32" stroke-width="1" fill="none" stroke-linejoin="round"/>
<text x="95.7" y="458.3" font-size="4.17" fill="#951c28" text-anchor="middle" transform="rotate(-90 95.7 456.8)" stroke="#951c28" stroke-width="0.15">4</text>
<text x="98" y="473.05" font-size="5.97" fill="#16898a" text-anchor="middle" textLength="11" lengthAdjust="spacingAndGlyphs" transform="rotate(-90 98 470.9)" stroke="#16898a" stroke-width="0.21">SDA</text>
<line x1="74.9" y1="446.2" x2="74.9" y2="442.7" stroke="#951c28" stroke-width="1"/>
<polygon points="71.3,442.7 78.5,442.7 74.9,439.1" stroke="#951c28" stroke-width="1" fill="none" stroke-linejoin="round"/>
<line x1="82.4" y1="446.2" x2="82.4" y2="437.7" stroke="#951c28" stroke-width="1"/>
<polyline points="80.2,441.5 82.4,437.7 84.6,441.5" stroke="#951c28" stroke-width="1" fill="none" stroke-linejoin="round"/>
<path d="M87.6,434.1 L87.6,443.5 L90.2,445.5 L92.8,443.5 L92.8,434.1 Q92.8,433.5 92.2,433.5 L88.2,433.5 Q87.6,433.5 87.6,434.1 Z" stroke="#951c28" stroke-width="1" fill="none" stroke-linejoin="round"/>
<text x="90.2" y="440.96" font-size="4.04" fill="#951c28" text-anchor="middle" textLength="8.8" lengthAdjust="spacingAndGlyphs" font-weight="bold" transform="rotate(-90 90.2 439.5)" stroke="#951c28" stroke-width="0.45">SCK</text>
<path d="M95.4,434.1 L95.4,443.5 L98,445.5 L100.6,443.5 L100.6,434.1 Q100.6,433.5 100,433.5 L96,433.5 Q95.4,433.5 95.4,434.1 Z" stroke="#951c28" stroke-width="1" fill="none" stroke-linejoin="round"/>
<text x="98" y="440.96" font-size="4.04" fill="#951c28" text-anchor="middle" textLength="8.8" lengthAdjust="spacingAndGlyphs" font-weight="bold" transform="rotate(-90 98 439.5)" stroke="#951c28" stroke-width="0.45">SDA</text>
<text x="74" y="434.2" font-size="4.72" fill="#16898a" text-anchor="middle" textLength="10" lengthAdjust="spacingAndGlyphs" stroke="#16898a" stroke-width="0.17">GND</text>
<text x="84.2" y="434.2" font-size="4.72" fill="#16898a" text-anchor="middle" textLength="10" lengthAdjust="spacingAndGlyphs" stroke="#16898a" stroke-width="0.17">+5V</text>
<text x="108.6" y="471.35" font-size="6.81" fill="#16898a" text-anchor="start" textLength="53.8" lengthAdjust="spacingAndGlyphs" stroke="#16898a" stroke-width="0.25">OLED−DISPLAY1</text>
<text x="108.6" y="479.85" font-size="6.81" fill="#16898a" text-anchor="start" textLength="44.8" lengthAdjust="spacingAndGlyphs" stroke="#16898a" stroke-width="0.25">SSD1306_I2C</text>
<text x="205.9" y="426.3" font-size="5.28" fill="#16898a" text-anchor="middle" textLength="11" lengthAdjust="spacingAndGlyphs" stroke="#16898a" stroke-width="0.19">GND</text>
<line x1="205.9" y1="438.1" x2="205.9" y2="434.5" stroke="#951c28" stroke-width="1"/>
<polygon points="201.9,434.5 209.9,434.5 205.9,430.5" stroke="#951c28" stroke-width="1" fill="none" stroke-linejoin="round"/>
<polyline points="205.9,438.1 205.9,447" stroke="#2a8f32" stroke-width="1" fill="none" stroke-linejoin="round"/>
<line x1="205.9" y1="447" x2="205.9" y2="454.2" stroke="#951c28" stroke-width="1"/>
<line x1="201.6" y1="453.9" x2="210.2" y2="453.9" stroke="#951c28" stroke-width="1.1"/>
<polygon points="201.4,461.1 210.4,461.1 205.9,453.9" stroke="#951c28" stroke-width="1.1" fill="none" stroke-linejoin="round"/>
<line x1="205.9" y1="461.75" x2="205.9" y2="469" stroke="#951c28" stroke-width="1"/>
<line x1="204.3" y1="449.2" x2="199.7" y2="444.9" stroke="#951c28" stroke-width="1"/>
<polygon points="199.7,444.9 202.19,445.45 200.42,447.35" stroke="#951c28" stroke-width="0.6" fill="#951c28" stroke-linejoin="round"/>
<line x1="204.3" y1="452.6" x2="199.5" y2="448.6" stroke="#951c28" stroke-width="1"/>
<polygon points="199.5,448.6 202.02,449.01 200.36,451.01" stroke="#951c28" stroke-width="0.6" fill="#951c28" stroke-linejoin="round"/>
<text x="203.5" y="466.9" font-size="3.89" fill="#951c28" text-anchor="middle" transform="rotate(-90 203.5 465.5)" stroke="#951c28" stroke-width="0.14">2</text>
<polyline points="205.9,469 205.9,478" stroke="#2a8f32" stroke-width="1" fill="none" stroke-linejoin="round"/>
<line x1="205.9" y1="478" x2="205.9" y2="481" stroke="#951c28" stroke-width="1"/>
<rect x="202.6" y="481" width="6.6" height="15.3" stroke="#951c28" stroke-width="1" fill="none" rx="0"/>
<line x1="205.9" y1="496.3" x2="205.9" y2="499.7" stroke="#951c28" stroke-width="1"/>
<polyline points="205.9,499.7 205.9,508.1" stroke="#2a8f32" stroke-width="1" fill="none" stroke-linejoin="round"/>
<path d="M202.5,522 L202.5,510.1 L205.9,508.1 L209.3,510.1 L209.3,522 Q209.3,522.6 208.7,522.6 L203.1,522.6 Q202.5,522.6 202.5,522 Z" stroke="#951c28" stroke-width="1" fill="none" stroke-linejoin="round"/>
<text x="205.9" y="517.25" font-size="5.29" fill="#951c28" text-anchor="middle" textLength="11.3" lengthAdjust="spacingAndGlyphs" font-weight="bold" transform="rotate(-90 205.9 515.35)" stroke="#951c28" stroke-width="0.45">LED1</text>
<text x="212.4" y="455.8" font-size="5.83" fill="#16898a" text-anchor="start" textLength="7" lengthAdjust="spacingAndGlyphs" stroke="#16898a" stroke-width="0.21">D1</text>
<text x="212.4" y="462.5" font-size="5.83" fill="#16898a" text-anchor="start" textLength="10" lengthAdjust="spacingAndGlyphs" stroke="#16898a" stroke-width="0.21">LED</text>
<text x="211.8" y="487.4" font-size="5.83" fill="#16898a" text-anchor="start" textLength="11" lengthAdjust="spacingAndGlyphs" stroke="#16898a" stroke-width="0.21">R10</text>
<text x="211.8" y="494.3" font-size="5.83" fill="#16898a" text-anchor="start" textLength="14.5" lengthAdjust="spacingAndGlyphs" stroke="#16898a" stroke-width="0.21">150R</text>
<text x="232.9" y="426.3" font-size="5.28" fill="#16898a" text-anchor="middle" textLength="11" lengthAdjust="spacingAndGlyphs" stroke="#16898a" stroke-width="0.19">GND</text>
<line x1="232.9" y1="438.1" x2="232.9" y2="434.5" stroke="#951c28" stroke-width="1"/>
<polygon points="228.9,434.5 236.9,434.5 232.9,430.5" stroke="#951c28" stroke-width="1" fill="none" stroke-linejoin="round"/>
<polyline points="232.9,438.1 232.9,447" stroke="#2a8f32" stroke-width="1" fill="none" stroke-linejoin="round"/>
<line x1="232.9" y1="447" x2="232.9" y2="454.2" stroke="#951c28" stroke-width="1"/>
<line x1="228.6" y1="453.9" x2="237.2" y2="453.9" stroke="#951c28" stroke-width="1.1"/>
<polygon points="228.4,461.1 237.4,461.1 232.9,453.9" stroke="#951c28" stroke-width="1.1" fill="none" stroke-linejoin="round"/>
<line x1="232.9" y1="461.75" x2="232.9" y2="469" stroke="#951c28" stroke-width="1"/>
<line x1="231.3" y1="449.2" x2="226.7" y2="444.9" stroke="#951c28" stroke-width="1"/>
<polygon points="226.7,444.9 229.19,445.45 227.42,447.35" stroke="#951c28" stroke-width="0.6" fill="#951c28" stroke-linejoin="round"/>
<line x1="231.3" y1="452.6" x2="226.5" y2="448.6" stroke="#951c28" stroke-width="1"/>
<polygon points="226.5,448.6 229.02,449.01 227.36,451.01" stroke="#951c28" stroke-width="0.6" fill="#951c28" stroke-linejoin="round"/>
<text x="230.5" y="466.9" font-size="3.89" fill="#951c28" text-anchor="middle" transform="rotate(-90 230.5 465.5)" stroke="#951c28" stroke-width="0.14">2</text>
<polyline points="232.9,469 232.9,478" stroke="#2a8f32" stroke-width="1" fill="none" stroke-linejoin="round"/>
<line x1="232.9" y1="478" x2="232.9" y2="481" stroke="#951c28" stroke-width="1"/>
<rect x="229.6" y="481" width="6.6" height="15.3" stroke="#951c28" stroke-width="1" fill="none" rx="0"/>
<line x1="232.9" y1="496.3" x2="232.9" y2="499.7" stroke="#951c28" stroke-width="1"/>
<polyline points="232.9,499.7 232.9,508.1" stroke="#2a8f32" stroke-width="1" fill="none" stroke-linejoin="round"/>
<path d="M229.5,522 L229.5,510.1 L232.9,508.1 L236.3,510.1 L236.3,522 Q236.3,522.6 235.7,522.6 L230.1,522.6 Q229.5,522.6 229.5,522 Z" stroke="#951c28" stroke-width="1" fill="none" stroke-linejoin="round"/>
<text x="232.9" y="517.25" font-size="5.29" fill="#951c28" text-anchor="middle" textLength="11.3" lengthAdjust="spacingAndGlyphs" font-weight="bold" transform="rotate(-90 232.9 515.35)" stroke="#951c28" stroke-width="0.45">LED2</text>
<text x="239.4" y="455.8" font-size="5.83" fill="#16898a" text-anchor="start" textLength="7" lengthAdjust="spacingAndGlyphs" stroke="#16898a" stroke-width="0.21">D2</text>
<text x="239.4" y="462.5" font-size="5.83" fill="#16898a" text-anchor="start" textLength="10" lengthAdjust="spacingAndGlyphs" stroke="#16898a" stroke-width="0.21">LED</text>
<text x="238.8" y="487.4" font-size="5.83" fill="#16898a" text-anchor="start" textLength="11" lengthAdjust="spacingAndGlyphs" stroke="#16898a" stroke-width="0.21">R11</text>
<text x="238.8" y="494.3" font-size="5.83" fill="#16898a" text-anchor="start" textLength="14.5" lengthAdjust="spacingAndGlyphs" stroke="#16898a" stroke-width="0.21">150R</text>
<text x="256" y="426.3" font-size="5.28" fill="#16898a" text-anchor="middle" textLength="11" lengthAdjust="spacingAndGlyphs" stroke="#16898a" stroke-width="0.19">GND</text>
<line x1="256" y1="438.1" x2="256" y2="434.5" stroke="#951c28" stroke-width="1"/>
<polygon points="252,434.5 260,434.5 256,430.5" stroke="#951c28" stroke-width="1" fill="none" stroke-linejoin="round"/>
<polyline points="256,438.1 256,447" stroke="#2a8f32" stroke-width="1" fill="none" stroke-linejoin="round"/>
<line x1="256" y1="447" x2="256" y2="454.2" stroke="#951c28" stroke-width="1"/>
<line x1="251.7" y1="453.9" x2="260.3" y2="453.9" stroke="#951c28" stroke-width="1.1"/>
<polygon points="251.5,461.1 260.5,461.1 256,453.9" stroke="#951c28" stroke-width="1.1" fill="none" stroke-linejoin="round"/>
<line x1="256" y1="461.75" x2="256" y2="469" stroke="#951c28" stroke-width="1"/>
<line x1="254.4" y1="449.2" x2="249.8" y2="444.9" stroke="#951c28" stroke-width="1"/>
<polygon points="249.8,444.9 252.29,445.45 250.52,447.35" stroke="#951c28" stroke-width="0.6" fill="#951c28" stroke-linejoin="round"/>
<line x1="254.4" y1="452.6" x2="249.6" y2="448.6" stroke="#951c28" stroke-width="1"/>
<polygon points="249.6,448.6 252.12,449.01 250.46,451.01" stroke="#951c28" stroke-width="0.6" fill="#951c28" stroke-linejoin="round"/>
<text x="253.6" y="466.9" font-size="3.89" fill="#951c28" text-anchor="middle" transform="rotate(-90 253.6 465.5)" stroke="#951c28" stroke-width="0.14">2</text>
<polyline points="256,469 256,478" stroke="#2a8f32" stroke-width="1" fill="none" stroke-linejoin="round"/>
<line x1="256" y1="478" x2="256" y2="481" stroke="#951c28" stroke-width="1"/>
<rect x="252.7" y="481" width="6.6" height="15.3" stroke="#951c28" stroke-width="1" fill="none" rx="0"/>
<line x1="256" y1="496.3" x2="256" y2="499.7" stroke="#951c28" stroke-width="1"/>
<polyline points="256,499.7 256,508.1" stroke="#2a8f32" stroke-width="1" fill="none" stroke-linejoin="round"/>
<path d="M252.6,522 L252.6,510.1 L256,508.1 L259.4,510.1 L259.4,522 Q259.4,522.6 258.8,522.6 L253.2,522.6 Q252.6,522.6 252.6,522 Z" stroke="#951c28" stroke-width="1" fill="none" stroke-linejoin="round"/>
<text x="256" y="517.25" font-size="5.29" fill="#951c28" text-anchor="middle" textLength="11.3" lengthAdjust="spacingAndGlyphs" font-weight="bold" transform="rotate(-90 256 515.35)" stroke="#951c28" stroke-width="0.45">LED3</text>
<text x="262.5" y="455.8" font-size="5.83" fill="#16898a" text-anchor="start" textLength="7" lengthAdjust="spacingAndGlyphs" stroke="#16898a" stroke-width="0.21">D3</text>
<text x="262.5" y="462.5" font-size="5.83" fill="#16898a" text-anchor="start" textLength="10" lengthAdjust="spacingAndGlyphs" stroke="#16898a" stroke-width="0.21">LED</text>
<text x="261.9" y="487.4" font-size="5.83" fill="#16898a" text-anchor="start" textLength="11" lengthAdjust="spacingAndGlyphs" stroke="#16898a" stroke-width="0.21">R12</text>
<text x="261.9" y="494.3" font-size="5.83" fill="#16898a" text-anchor="start" textLength="14.5" lengthAdjust="spacingAndGlyphs" stroke="#16898a" stroke-width="0.21">150R</text>
<text x="323.25" y="412.2" font-size="5.28" fill="#16898a" text-anchor="middle" textLength="11.5" lengthAdjust="spacingAndGlyphs" stroke="#16898a" stroke-width="0.19">+5V</text>
<line x1="322.05" y1="423" x2="322.05" y2="415.1" stroke="#951c28" stroke-width="1"/>
<polyline points="319.65,419.3 322.05,415.1 324.45,419.3" stroke="#951c28" stroke-width="1" fill="none" stroke-linejoin="round"/>
<polyline points="322.05,423 322.05,427" stroke="#2a8f32" stroke-width="1" fill="none" stroke-linejoin="round"/>
<line x1="322.05" y1="427" x2="322.05" y2="430.7" stroke="#951c28" stroke-width="1"/>
<rect x="318.8" y="430.7" width="6.5" height="15.6" stroke="#951c28" stroke-width="1" fill="none" rx="0"/>
<line x1="322.05" y1="446.3" x2="322.05" y2="450" stroke="#951c28" stroke-width="1"/>
<polyline points="322.05,450 322.05,458" stroke="#2a8f32" stroke-width="1" fill="none" stroke-linejoin="round"/>
<polyline points="322.05,454.1 341.5,454.1" stroke="#2a8f32" stroke-width="1" fill="none" stroke-linejoin="round"/>
<circle cx="322.05" cy="454.1" r="2.1" fill="#1f8f1f"/>
<circle cx="341.5" cy="454.1" r="2.1" fill="#1f8f1f"/>
<path d="M338.2,418.5 L338.2,428.1 L341.5,430.1 L344.8,428.1 L344.8,418.5 Q344.8,417.9 344.2,417.9 L338.8,417.9 Q338.2,417.9 338.2,418.5 Z" stroke="#951c28" stroke-width="1" fill="none" stroke-linejoin="round"/>
<text x="341.5" y="425.85" font-size="5.13" fill="#951c28" text-anchor="middle" textLength="9" lengthAdjust="spacingAndGlyphs" font-weight="bold" transform="rotate(-90 341.5 424)" stroke="#951c28" stroke-width="0.45">SW1</text>
<polyline points="341.5,430.1 341.5,463.5" stroke="#2a8f32" stroke-width="1" fill="none" stroke-linejoin="round"/>
<line x1="341.5" y1="463.5" x2="341.5" y2="467.9" stroke="#951c28" stroke-width="1"/>
<line x1="336.65" y1="467.9" x2="346.35" y2="467.9" stroke="#951c28" stroke-width="1.2"/>
<line x1="336.65" y1="471.1" x2="346.35" y2="471.1" stroke="#951c28" stroke-width="1.2"/>
<line x1="341.5" y1="471.1" x2="341.5" y2="475.5" stroke="#951c28" stroke-width="1"/>
<polyline points="341.5,475.5 341.5,519.5" stroke="#2a8f32" stroke-width="1" fill="none" stroke-linejoin="round"/>
<line x1="322.05" y1="458" x2="322.05" y2="461.4" stroke="#951c28" stroke-width="1"/>
<rect x="318.8" y="461.4" width="6.5" height="15.8" stroke="#951c28" stroke-width="1" fill="none" rx="0"/>
<line x1="322.05" y1="477.2" x2="322.05" y2="480.8" stroke="#951c28" stroke-width="1"/>
<polyline points="322.05,480.8 322.05,485.3" stroke="#2a8f32" stroke-width="1" fill="none" stroke-linejoin="round"/>
<line x1="322.05" y1="485.3" x2="322.05" y2="492.3" stroke="#951c28" stroke-width="1"/>
<circle cx="322.05" cy="493.7" r="1.4" stroke="#951c28" stroke-width="1" fill="none"/>
<circle cx="322.05" cy="506.4" r="1.4" stroke="#951c28" stroke-width="1" fill="none"/>
<line x1="317.75" y1="492.4" x2="317.75" y2="507.8" stroke="#951c28" stroke-width="1"/>
<line x1="312.05" y1="500.1" x2="317.75" y2="500.1" stroke="#951c28" stroke-width="1"/>
<line x1="322.05" y1="507.8" x2="322.05" y2="514.3" stroke="#951c28" stroke-width="1"/>
<polyline points="322.05,514.3 322.05,519.5" stroke="#2a8f32" stroke-width="1" fill="none" stroke-linejoin="round"/>
<line x1="322.05" y1="519.5" x2="322.05" y2="523.3" stroke="#951c28" stroke-width="1"/>
<polygon points="318.25,523.3 325.85,523.3 322.05,527.3" stroke="#951c28" stroke-width="1" fill="none" stroke-linejoin="round"/>
<line x1="341.5" y1="519.5" x2="341.5" y2="523.3" stroke="#951c28" stroke-width="1"/>
<polygon points="337.7,523.3 345.3,523.3 341.5,527.3" stroke="#951c28" stroke-width="1" fill="none" stroke-linejoin="round"/>
<text x="322.35" y="534.6" font-size="5.28" fill="#16898a" text-anchor="middle" textLength="11" lengthAdjust="spacingAndGlyphs" stroke="#16898a" stroke-width="0.19">GND</text>
<text x="341.8" y="534.6" font-size="5.28" fill="#16898a" text-anchor="middle" textLength="11" lengthAdjust="spacingAndGlyphs" stroke="#16898a" stroke-width="0.19">GND</text>
<text x="328.65" y="437.2" font-size="5.56" fill="#16898a" text-anchor="start" textLength="6.5" lengthAdjust="spacingAndGlyphs" stroke="#16898a" stroke-width="0.2">R4</text>
<text x="328.65" y="444.4" font-size="5.56" fill="#16898a" text-anchor="start" textLength="10" lengthAdjust="spacingAndGlyphs" stroke="#16898a" stroke-width="0.2">10K</text>
<text x="328.65" y="468.3" font-size="5.56" fill="#16898a" text-anchor="start" textLength="6.5" lengthAdjust="spacingAndGlyphs" stroke="#16898a" stroke-width="0.2">R7</text>
<text x="328.65" y="474.4" font-size="5.56" fill="#16898a" text-anchor="start" textLength="6.5" lengthAdjust="spacingAndGlyphs" stroke="#16898a" stroke-width="0.2">1K</text>
<text x="349.4" y="468.3" font-size="5.56" fill="#16898a" text-anchor="start" textLength="7" lengthAdjust="spacingAndGlyphs" stroke="#16898a" stroke-width="0.2">C4</text>
<text x="349.4" y="474.4" font-size="5.56" fill="#16898a" text-anchor="start" textLength="15.4" lengthAdjust="spacingAndGlyphs" stroke="#16898a" stroke-width="0.2">0.1uF</text>
<text x="326.35" y="498.9" font-size="5.56" fill="#16898a" text-anchor="start" textLength="11.6" lengthAdjust="spacingAndGlyphs" stroke="#16898a" stroke-width="0.2">SW1</text>
<text x="326.35" y="505.7" font-size="5.56" fill="#16898a" text-anchor="start" textLength="24.5" lengthAdjust="spacingAndGlyphs" stroke="#16898a" stroke-width="0.2">SW_Push</text>
<text x="377.3" y="412.2" font-size="5.28" fill="#16898a" text-anchor="middle" textLength="11.5" lengthAdjust="spacingAndGlyphs" stroke="#16898a" stroke-width="0.19">+5V</text>
<line x1="376.1" y1="423" x2="376.1" y2="415.1" stroke="#951c28" stroke-width="1"/>
<polyline points="373.7,419.3 376.1,415.1 378.5,419.3" stroke="#951c28" stroke-width="1" fill="none" stroke-linejoin="round"/>
<polyline points="376.1,423 376.1,427" stroke="#2a8f32" stroke-width="1" fill="none" stroke-linejoin="round"/>
<line x1="376.1" y1="427" x2="376.1" y2="430.7" stroke="#951c28" stroke-width="1"/>
<rect x="372.85" y="430.7" width="6.5" height="15.6" stroke="#951c28" stroke-width="1" fill="none" rx="0"/>
<line x1="376.1" y1="446.3" x2="376.1" y2="450" stroke="#951c28" stroke-width="1"/>
<polyline points="376.1,450 376.1,458" stroke="#2a8f32" stroke-width="1" fill="none" stroke-linejoin="round"/>
<polyline points="376.1,454.1 395.55,454.1" stroke="#2a8f32" stroke-width="1" fill="none" stroke-linejoin="round"/>
<circle cx="376.1" cy="454.1" r="2.1" fill="#1f8f1f"/>
<circle cx="395.55" cy="454.1" r="2.1" fill="#1f8f1f"/>
<path d="M392.25,418.5 L392.25,428.1 L395.55,430.1 L398.85,428.1 L398.85,418.5 Q398.85,417.9 398.25,417.9 L392.85,417.9 Q392.25,417.9 392.25,418.5 Z" stroke="#951c28" stroke-width="1" fill="none" stroke-linejoin="round"/>
<text x="395.55" y="425.85" font-size="5.13" fill="#951c28" text-anchor="middle" textLength="9" lengthAdjust="spacingAndGlyphs" font-weight="bold" transform="rotate(-90 395.55 424)" stroke="#951c28" stroke-width="0.45">SW2</text>
<polyline points="395.55,430.1 395.55,463.5" stroke="#2a8f32" stroke-width="1" fill="none" stroke-linejoin="round"/>
<line x1="395.55" y1="463.5" x2="395.55" y2="467.9" stroke="#951c28" stroke-width="1"/>
<line x1="390.7" y1="467.9" x2="400.4" y2="467.9" stroke="#951c28" stroke-width="1.2"/>
<line x1="390.7" y1="471.1" x2="400.4" y2="471.1" stroke="#951c28" stroke-width="1.2"/>
<line x1="395.55" y1="471.1" x2="395.55" y2="475.5" stroke="#951c28" stroke-width="1"/>
<polyline points="395.55,475.5 395.55,519.5" stroke="#2a8f32" stroke-width="1" fill="none" stroke-linejoin="round"/>
<line x1="376.1" y1="458" x2="376.1" y2="461.4" stroke="#951c28" stroke-width="1"/>
<rect x="372.85" y="461.4" width="6.5" height="15.8" stroke="#951c28" stroke-width="1" fill="none" rx="0"/>
<line x1="376.1" y1="477.2" x2="376.1" y2="480.8" stroke="#951c28" stroke-width="1"/>
<polyline points="376.1,480.8 376.1,485.3" stroke="#2a8f32" stroke-width="1" fill="none" stroke-linejoin="round"/>
<line x1="376.1" y1="485.3" x2="376.1" y2="492.3" stroke="#951c28" stroke-width="1"/>
<circle cx="376.1" cy="493.7" r="1.4" stroke="#951c28" stroke-width="1" fill="none"/>
<circle cx="376.1" cy="506.4" r="1.4" stroke="#951c28" stroke-width="1" fill="none"/>
<line x1="371.8" y1="492.4" x2="371.8" y2="507.8" stroke="#951c28" stroke-width="1"/>
<line x1="366.1" y1="500.1" x2="371.8" y2="500.1" stroke="#951c28" stroke-width="1"/>
<line x1="376.1" y1="507.8" x2="376.1" y2="514.3" stroke="#951c28" stroke-width="1"/>
<polyline points="376.1,514.3 376.1,519.5" stroke="#2a8f32" stroke-width="1" fill="none" stroke-linejoin="round"/>
<line x1="376.1" y1="519.5" x2="376.1" y2="523.3" stroke="#951c28" stroke-width="1"/>
<polygon points="372.3,523.3 379.9,523.3 376.1,527.3" stroke="#951c28" stroke-width="1" fill="none" stroke-linejoin="round"/>
<line x1="395.55" y1="519.5" x2="395.55" y2="523.3" stroke="#951c28" stroke-width="1"/>
<polygon points="391.75,523.3 399.35,523.3 395.55,527.3" stroke="#951c28" stroke-width="1" fill="none" stroke-linejoin="round"/>
<text x="376.4" y="534.6" font-size="5.28" fill="#16898a" text-anchor="middle" textLength="11" lengthAdjust="spacingAndGlyphs" stroke="#16898a" stroke-width="0.19">GND</text>
<text x="395.85" y="534.6" font-size="5.28" fill="#16898a" text-anchor="middle" textLength="11" lengthAdjust="spacingAndGlyphs" stroke="#16898a" stroke-width="0.19">GND</text>
<text x="382.7" y="437.2" font-size="5.56" fill="#16898a" text-anchor="start" textLength="6.5" lengthAdjust="spacingAndGlyphs" stroke="#16898a" stroke-width="0.2">R5</text>
<text x="382.7" y="444.4" font-size="5.56" fill="#16898a" text-anchor="start" textLength="10" lengthAdjust="spacingAndGlyphs" stroke="#16898a" stroke-width="0.2">10K</text>
<text x="382.7" y="468.3" font-size="5.56" fill="#16898a" text-anchor="start" textLength="6.5" lengthAdjust="spacingAndGlyphs" stroke="#16898a" stroke-width="0.2">R8</text>
<text x="382.7" y="474.4" font-size="5.56" fill="#16898a" text-anchor="start" textLength="6.5" lengthAdjust="spacingAndGlyphs" stroke="#16898a" stroke-width="0.2">1K</text>
<text x="403.45" y="468.3" font-size="5.56" fill="#16898a" text-anchor="start" textLength="7" lengthAdjust="spacingAndGlyphs" stroke="#16898a" stroke-width="0.2">C5</text>
<text x="403.45" y="474.4" font-size="5.56" fill="#16898a" text-anchor="start" textLength="15.4" lengthAdjust="spacingAndGlyphs" stroke="#16898a" stroke-width="0.2">0.1uF</text>
<text x="380.4" y="498.9" font-size="5.56" fill="#16898a" text-anchor="start" textLength="11.6" lengthAdjust="spacingAndGlyphs" stroke="#16898a" stroke-width="0.2">SW2</text>
<text x="380.4" y="505.7" font-size="5.56" fill="#16898a" text-anchor="start" textLength="24.5" lengthAdjust="spacingAndGlyphs" stroke="#16898a" stroke-width="0.2">SW_Push</text>
<text x="431.3" y="412.2" font-size="5.28" fill="#16898a" text-anchor="middle" textLength="11.5" lengthAdjust="spacingAndGlyphs" stroke="#16898a" stroke-width="0.19">+5V</text>
<line x1="430.1" y1="423" x2="430.1" y2="415.1" stroke="#951c28" stroke-width="1"/>
<polyline points="427.7,419.3 430.1,415.1 432.5,419.3" stroke="#951c28" stroke-width="1" fill="none" stroke-linejoin="round"/>
<polyline points="430.1,423 430.1,427" stroke="#2a8f32" stroke-width="1" fill="none" stroke-linejoin="round"/>
<line x1="430.1" y1="427" x2="430.1" y2="430.7" stroke="#951c28" stroke-width="1"/>
<rect x="426.85" y="430.7" width="6.5" height="15.6" stroke="#951c28" stroke-width="1" fill="none" rx="0"/>
<line x1="430.1" y1="446.3" x2="430.1" y2="450" stroke="#951c28" stroke-width="1"/>
<polyline points="430.1,450 430.1,458" stroke="#2a8f32" stroke-width="1" fill="none" stroke-linejoin="round"/>
<polyline points="430.1,454.1 449.55,454.1" stroke="#2a8f32" stroke-width="1" fill="none" stroke-linejoin="round"/>
<circle cx="430.1" cy="454.1" r="2.1" fill="#1f8f1f"/>
<circle cx="449.55" cy="454.1" r="2.1" fill="#1f8f1f"/>
<path d="M446.25,418.5 L446.25,428.1 L449.55,430.1 L452.85,428.1 L452.85,418.5 Q452.85,417.9 452.25,417.9 L446.85,417.9 Q446.25,417.9 446.25,418.5 Z" stroke="#951c28" stroke-width="1" fill="none" stroke-linejoin="round"/>
<text x="449.55" y="425.85" font-size="5.13" fill="#951c28" text-anchor="middle" textLength="9" lengthAdjust="spacingAndGlyphs" font-weight="bold" transform="rotate(-90 449.55 424)" stroke="#951c28" stroke-width="0.45">SW3</text>
<polyline points="449.55,430.1 449.55,463.5" stroke="#2a8f32" stroke-width="1" fill="none" stroke-linejoin="round"/>
<line x1="449.55" y1="463.5" x2="449.55" y2="467.9" stroke="#951c28" stroke-width="1"/>
<line x1="444.7" y1="467.9" x2="454.4" y2="467.9" stroke="#951c28" stroke-width="1.2"/>
<line x1="444.7" y1="471.1" x2="454.4" y2="471.1" stroke="#951c28" stroke-width="1.2"/>
<line x1="449.55" y1="471.1" x2="449.55" y2="475.5" stroke="#951c28" stroke-width="1"/>
<polyline points="449.55,475.5 449.55,519.5" stroke="#2a8f32" stroke-width="1" fill="none" stroke-linejoin="round"/>
<line x1="430.1" y1="458" x2="430.1" y2="461.4" stroke="#951c28" stroke-width="1"/>
<rect x="426.85" y="461.4" width="6.5" height="15.8" stroke="#951c28" stroke-width="1" fill="none" rx="0"/>
<line x1="430.1" y1="477.2" x2="430.1" y2="480.8" stroke="#951c28" stroke-width="1"/>
<polyline points="430.1,480.8 430.1,485.3" stroke="#2a8f32" stroke-width="1" fill="none" stroke-linejoin="round"/>
<line x1="430.1" y1="485.3" x2="430.1" y2="492.3" stroke="#951c28" stroke-width="1"/>
<circle cx="430.1" cy="493.7" r="1.4" stroke="#951c28" stroke-width="1" fill="none"/>
<circle cx="430.1" cy="506.4" r="1.4" stroke="#951c28" stroke-width="1" fill="none"/>
<line x1="425.8" y1="492.4" x2="425.8" y2="507.8" stroke="#951c28" stroke-width="1"/>
<line x1="420.1" y1="500.1" x2="425.8" y2="500.1" stroke="#951c28" stroke-width="1"/>
<line x1="430.1" y1="507.8" x2="430.1" y2="514.3" stroke="#951c28" stroke-width="1"/>
<polyline points="430.1,514.3 430.1,519.5" stroke="#2a8f32" stroke-width="1" fill="none" stroke-linejoin="round"/>
<line x1="430.1" y1="519.5" x2="430.1" y2="523.3" stroke="#951c28" stroke-width="1"/>
<polygon points="426.3,523.3 433.9,523.3 430.1,527.3" stroke="#951c28" stroke-width="1" fill="none" stroke-linejoin="round"/>
<line x1="449.55" y1="519.5" x2="449.55" y2="523.3" stroke="#951c28" stroke-width="1"/>
<polygon points="445.75,523.3 453.35,523.3 449.55,527.3" stroke="#951c28" stroke-width="1" fill="none" stroke-linejoin="round"/>
<text x="430.4" y="534.6" font-size="5.28" fill="#16898a" text-anchor="middle" textLength="11" lengthAdjust="spacingAndGlyphs" stroke="#16898a" stroke-width="0.19">GND</text>
<text x="449.85" y="534.6" font-size="5.28" fill="#16898a" text-anchor="middle" textLength="11" lengthAdjust="spacingAndGlyphs" stroke="#16898a" stroke-width="0.19">GND</text>
<text x="436.7" y="437.2" font-size="5.56" fill="#16898a" text-anchor="start" textLength="6.5" lengthAdjust="spacingAndGlyphs" stroke="#16898a" stroke-width="0.2">R6</text>
<text x="436.7" y="444.4" font-size="5.56" fill="#16898a" text-anchor="start" textLength="10" lengthAdjust="spacingAndGlyphs" stroke="#16898a" stroke-width="0.2">10K</text>
<text x="436.7" y="468.3" font-size="5.56" fill="#16898a" text-anchor="start" textLength="6.5" lengthAdjust="spacingAndGlyphs" stroke="#16898a" stroke-width="0.2">R9</text>
<text x="436.7" y="474.4" font-size="5.56" fill="#16898a" text-anchor="start" textLength="6.5" lengthAdjust="spacingAndGlyphs" stroke="#16898a" stroke-width="0.2">1K</text>
<text x="457.45" y="468.3" font-size="5.56" fill="#16898a" text-anchor="start" textLength="7" lengthAdjust="spacingAndGlyphs" stroke="#16898a" stroke-width="0.2">C6</text>
<text x="457.45" y="474.4" font-size="5.56" fill="#16898a" text-anchor="start" textLength="15.4" lengthAdjust="spacingAndGlyphs" stroke="#16898a" stroke-width="0.2">0.1uF</text>
<text x="434.4" y="498.9" font-size="5.56" fill="#16898a" text-anchor="start" textLength="11.6" lengthAdjust="spacingAndGlyphs" stroke="#16898a" stroke-width="0.2">SW3</text>
<text x="434.4" y="505.7" font-size="5.56" fill="#16898a" text-anchor="start" textLength="24.5" lengthAdjust="spacingAndGlyphs" stroke="#16898a" stroke-width="0.2">SW_Push</text>
<text x="554.8" y="35.7" font-size="5.83" fill="#3343cc" text-anchor="start" textLength="18.5" lengthAdjust="spacingAndGlyphs" stroke="#3343cc" stroke-width="0.45">POWER</text>
<text x="554.8" y="89.8" font-size="5.83" fill="#3343cc" text-anchor="start" textLength="24" lengthAdjust="spacingAndGlyphs" stroke="#3343cc" stroke-width="0.45">SPEAKER</text>
<text x="554.8" y="159.4" font-size="5.83" fill="#3343cc" text-anchor="start" textLength="17.5" lengthAdjust="spacingAndGlyphs" stroke="#3343cc" stroke-width="0.45">RS485</text>
<text x="554.8" y="248.4" font-size="5.83" fill="#3343cc" text-anchor="start" textLength="13" lengthAdjust="spacingAndGlyphs" stroke="#3343cc" stroke-width="0.45">GPIO</text>
<text x="705.2" y="221.4" font-size="5.83" fill="#3343cc" text-anchor="start" textLength="8.5" lengthAdjust="spacingAndGlyphs" stroke="#3343cc" stroke-width="0.45">I2C</text>
<rect x="603.9" y="42.4" width="11.9" height="27.3" stroke="#951c28" stroke-width="1" fill="#ffffc2" rx="0"/>
<circle cx="609.9" cy="48.5" r="3.7" stroke="#951c28" stroke-width="1" fill="none"/>
<line x1="606.53" y1="46.87" x2="611.73" y2="51.67" stroke="#951c28" stroke-width="0.7"/>
<line x1="607.3" y1="46.1" x2="612.5" y2="50.9" stroke="#951c28" stroke-width="0.7"/>
<line x1="608.07" y1="45.33" x2="613.27" y2="50.13" stroke="#951c28" stroke-width="0.7"/>
<line x1="596.5" y1="48.5" x2="603.9" y2="48.5" stroke="#951c28" stroke-width="1"/>
<circle cx="609.9" cy="63.95" r="3.7" stroke="#951c28" stroke-width="1" fill="none"/>
<line x1="606.53" y1="62.32" x2="611.73" y2="67.12" stroke="#951c28" stroke-width="0.7"/>
<line x1="607.3" y1="61.55" x2="612.5" y2="66.35" stroke="#951c28" stroke-width="0.7"/>
<line x1="608.07" y1="60.78" x2="613.27" y2="65.58" stroke="#951c28" stroke-width="0.7"/>
<line x1="596.5" y1="63.95" x2="603.9" y2="63.95" stroke="#951c28" stroke-width="1"/>
<text x="600.6" y="47.6" font-size="5.83" fill="#951c28" text-anchor="middle" stroke="#951c28" stroke-width="0.21">2</text>
<text x="600.6" y="63.05" font-size="5.83" fill="#951c28" text-anchor="middle" stroke="#951c28" stroke-width="0.21">1</text>
<polyline points="588,48.5 596.5,48.5" stroke="#2a8f32" stroke-width="1" fill="none" stroke-linejoin="round"/>
<line x1="588" y1="48.5" x2="580.4" y2="48.5" stroke="#951c28" stroke-width="1"/>
<polyline points="585,45.9 580.4,48.5 585,51.1" stroke="#951c28" stroke-width="1" fill="none" stroke-linejoin="round"/>
<text x="570.8" y="48.9" font-size="5.28" fill="#16898a" text-anchor="middle" textLength="14.5" lengthAdjust="spacingAndGlyphs" stroke="#16898a" stroke-width="0.19">+12V</text>
<polyline points="586.2,63.95 596.5,63.95" stroke="#2a8f32" stroke-width="1" fill="none" stroke-linejoin="round"/>
<line x1="586.2" y1="63.95" x2="585.6" y2="63.95" stroke="#951c28" stroke-width="1"/>
<polygon points="585.6,60.25 585.6,67.65 580.9,63.95" stroke="#951c28" stroke-width="1" fill="none" stroke-linejoin="round"/>
<text x="572.5" y="66.4" font-size="5.28" fill="#16898a" text-anchor="middle" textLength="11" lengthAdjust="spacingAndGlyphs" stroke="#16898a" stroke-width="0.19">GND</text>
<text x="619.2" y="54.65" font-size="5.97" fill="#16898a" text-anchor="start" textLength="4.6" lengthAdjust="spacingAndGlyphs" stroke="#16898a" stroke-width="0.21">J1</text>
<text x="619.2" y="61.55" font-size="5.97" fill="#16898a" text-anchor="start" textLength="60.5" lengthAdjust="spacingAndGlyphs" stroke="#16898a" stroke-width="0.21">Screw_Terminal_1x02</text>
<rect x="603.9" y="96.5" width="11.9" height="27.3" stroke="#951c28" stroke-width="1" fill="#ffffc2" rx="0"/>
<circle cx="609.9" cy="102.59" r="3.7" stroke="#951c28" stroke-width="1" fill="none"/>
<line x1="606.53" y1="100.96" x2="611.73" y2="105.76" stroke="#951c28" stroke-width="0.7"/>
<line x1="607.3" y1="100.19" x2="612.5" y2="104.99" stroke="#951c28" stroke-width="0.7"/>
<line x1="608.07" y1="99.42" x2="613.27" y2="104.22" stroke="#951c28" stroke-width="0.7"/>
<line x1="596.5" y1="102.59" x2="603.9" y2="102.59" stroke="#951c28" stroke-width="1"/>
<circle cx="609.9" cy="118.04" r="3.7" stroke="#951c28" stroke-width="1" fill="none"/>
<line x1="606.53" y1="116.41" x2="611.73" y2="121.21" stroke="#951c28" stroke-width="0.7"/>
<line x1="607.3" y1="115.64" x2="612.5" y2="120.44" stroke="#951c28" stroke-width="0.7"/>
<line x1="608.07" y1="114.87" x2="613.27" y2="119.67" stroke="#951c28" stroke-width="0.7"/>
<line x1="596.5" y1="118.04" x2="603.9" y2="118.04" stroke="#951c28" stroke-width="1"/>
<text x="600.6" y="101.69" font-size="5.83" fill="#951c28" text-anchor="middle" stroke="#951c28" stroke-width="0.21">2</text>
<text x="600.6" y="117.14" font-size="5.83" fill="#951c28" text-anchor="middle" stroke="#951c28" stroke-width="0.21">1</text>
<path d="M571.4,99.99 L586.8,99.99 L588.8,102.59 L586.8,105.19 L571.4,105.19 Q570.8,105.19 570.8,104.59 L570.8,100.59 Q570.8,99.99 571.4,99.99 Z" stroke="#951c28" stroke-width="1" fill="none" stroke-linejoin="round"/>
<text x="579.8" y="104.05" font-size="4.04" fill="#951c28" text-anchor="middle" textLength="14.8" lengthAdjust="spacingAndGlyphs" font-weight="bold" stroke="#951c28" stroke-width="0.45">SPK_1</text>
<path d="M571.4,115.44 L586.8,115.44 L588.8,118.04 L586.8,120.64 L571.4,120.64 Q570.8,120.64 570.8,120.04 L570.8,116.04 Q570.8,115.44 571.4,115.44 Z" stroke="#951c28" stroke-width="1" fill="none" stroke-linejoin="round"/>
<text x="579.8" y="119.5" font-size="4.04" fill="#951c28" text-anchor="middle" textLength="14.8" lengthAdjust="spacingAndGlyphs" font-weight="bold" stroke="#951c28" stroke-width="0.45">SPK_2</text>
<polyline points="588.8,102.59 596.5,102.59" stroke="#2a8f32" stroke-width="1" fill="none" stroke-linejoin="round"/>
<polyline points="588.8,118.04 596.5,118.04" stroke="#2a8f32" stroke-width="1" fill="none" stroke-linejoin="round"/>
<text x="619.2" y="108.75" font-size="5.97" fill="#16898a" text-anchor="start" textLength="4.6" lengthAdjust="spacingAndGlyphs" stroke="#16898a" stroke-width="0.21">J2</text>
<text x="619.2" y="115.65" font-size="5.97" fill="#16898a" text-anchor="start" textLength="60.5" lengthAdjust="spacingAndGlyphs" stroke="#16898a" stroke-width="0.21">Screw_Terminal_1x02</text>
<rect x="603.8" y="160.2" width="58.4" height="50.4" stroke="#951c28" stroke-width="1" fill="none" rx="0"/>
<polyline points="616,168.3 646.3,168.3 646.3,203 616,203 616,195.4 611.9,195.4 611.9,191.3 607.8,191.3 607.8,179.6 611.9,179.6 611.9,175.5 616,175.5 616,168.3" stroke="#951c28" stroke-width="1" fill="none" stroke-linejoin="round"/>
<line x1="642.8" y1="175.5" x2="646.3" y2="175.5" stroke="#951c28" stroke-width="0.9"/>
<line x1="642.8" y1="179.4" x2="646.3" y2="179.4" stroke="#951c28" stroke-width="0.9"/>
<line x1="642.8" y1="183.3" x2="646.3" y2="183.3" stroke="#951c28" stroke-width="0.9"/>
<line x1="642.8" y1="187.3" x2="646.3" y2="187.3" stroke="#951c28" stroke-width="0.9"/>
<line x1="642.8" y1="191.3" x2="646.3" y2="191.3" stroke="#951c28" stroke-width="0.9"/>
<line x1="642.8" y1="195.4" x2="646.3" y2="195.4" stroke="#951c28" stroke-width="0.9"/>
<line x1="592.1" y1="168.3" x2="603.8" y2="168.3" stroke="#951c28" stroke-width="1"/>
<text x="598.2" y="167.3" font-size="5.56" fill="#951c28" text-anchor="middle" stroke="#951c28" stroke-width="0.2">1</text>
<line x1="592.1" y1="176.03" x2="603.8" y2="176.03" stroke="#951c28" stroke-width="1"/>
<text x="598.2" y="175.03" font-size="5.56" fill="#951c28" text-anchor="middle" stroke="#951c28" stroke-width="0.2">2</text>
<line x1="592.1" y1="183.75" x2="603.8" y2="183.75" stroke="#951c28" stroke-width="1"/>
<text x="598.2" y="182.75" font-size="5.56" fill="#951c28" text-anchor="middle" stroke="#951c28" stroke-width="0.2">3</text>
<line x1="592.1" y1="191.48" x2="603.8" y2="191.48" stroke="#951c28" stroke-width="1"/>
<text x="598.2" y="190.48" font-size="5.56" fill="#951c28" text-anchor="middle" stroke="#951c28" stroke-width="0.2">4</text>
<line x1="592.1" y1="199.21" x2="603.8" y2="199.21" stroke="#951c28" stroke-width="1"/>
<text x="598.2" y="198.21" font-size="5.56" fill="#951c28" text-anchor="middle" stroke="#951c28" stroke-width="0.2">5</text>
<line x1="592.1" y1="206.94" x2="603.8" y2="206.94" stroke="#951c28" stroke-width="1"/>
<text x="598.2" y="205.94" font-size="5.56" fill="#951c28" text-anchor="middle" stroke="#951c28" stroke-width="0.2">6</text>
<line x1="590.1" y1="166.3" x2="594.1" y2="170.3" stroke="#2a35c0" stroke-width="1"/>
<line x1="590.1" y1="170.3" x2="594.1" y2="166.3" stroke="#2a35c0" stroke-width="1"/>
<line x1="590.1" y1="174.03" x2="594.1" y2="178.03" stroke="#2a35c0" stroke-width="1"/>
<line x1="590.1" y1="178.03" x2="594.1" y2="174.03" stroke="#2a35c0" stroke-width="1"/>
<line x1="590.1" y1="197.21" x2="594.1" y2="201.21" stroke="#2a35c0" stroke-width="1"/>
<line x1="590.1" y1="201.21" x2="594.1" y2="197.21" stroke="#2a35c0" stroke-width="1"/>
<line x1="590.1" y1="204.94" x2="594.1" y2="208.94" stroke="#2a35c0" stroke-width="1"/>
<line x1="590.1" y1="208.94" x2="594.1" y2="204.94" stroke="#2a35c0" stroke-width="1"/>
<path d="M560.2,181.15 L582.4,181.15 L584.4,183.75 L582.4,186.35 L560.2,186.35 Q559.6,186.35 559.6,185.75 L559.6,181.75 Q559.6,181.15 560.2,181.15 Z" stroke="#951c28" stroke-width="1" fill="none" stroke-linejoin="round"/>
<text x="572" y="185.21" font-size="4.04" fill="#951c28" text-anchor="middle" textLength="21.6" lengthAdjust="spacingAndGlyphs" font-weight="bold" stroke="#951c28" stroke-width="0.45">PHONE-A</text>
<path d="M559.3,188.88 L582.4,188.88 L584.4,191.48 L582.4,194.08 L559.3,194.08 Q558.7,194.08 558.7,193.48 L558.7,189.48 Q558.7,188.88 559.3,188.88 Z" stroke="#951c28" stroke-width="1" fill="none" stroke-linejoin="round"/>
<text x="571.55" y="192.94" font-size="4.04" fill="#951c28" text-anchor="middle" textLength="22.5" lengthAdjust="spacingAndGlyphs" font-weight="bold" stroke="#951c28" stroke-width="0.45">PHONE-B</text>
<polyline points="584.4,183.75 592.1,183.75" stroke="#2a8f32" stroke-width="1" fill="none" stroke-linejoin="round"/>
<polyline points="584.4,191.48 592.1,191.48" stroke="#2a8f32" stroke-width="1" fill="none" stroke-linejoin="round"/>
<line x1="650.4" y1="210.6" x2="650.4" y2="222.1" stroke="#951c28" stroke-width="1"/>
<line x1="648.4" y1="220.1" x2="652.4" y2="224.1" stroke="#2a35c0" stroke-width="1"/>
<line x1="648.4" y1="224.1" x2="652.4" y2="220.1" stroke="#2a35c0" stroke-width="1"/>
<text x="647.2" y="217.8" font-size="5" fill="#951c28" text-anchor="middle" transform="rotate(-90 647.2 216)" stroke="#951c28" stroke-width="0.18">8</text>
<line x1="658" y1="210.6" x2="658" y2="222.1" stroke="#951c28" stroke-width="1"/>
<line x1="656" y1="220.1" x2="660" y2="224.1" stroke="#2a35c0" stroke-width="1"/>
<line x1="656" y1="224.1" x2="660" y2="220.1" stroke="#2a35c0" stroke-width="1"/>
<text x="654.8" y="217.8" font-size="5" fill="#951c28" text-anchor="middle" transform="rotate(-90 654.8 216)" stroke="#951c28" stroke-width="0.18">7</text>
<text x="650.5" y="201" font-size="4.17" fill="#16898a" text-anchor="middle" textLength="13.5" lengthAdjust="spacingAndGlyphs" transform="rotate(-90 650.5 199.5)" stroke="#16898a" stroke-width="0.15">SHIELD</text>
<text x="658.1" y="201" font-size="4.17" fill="#16898a" text-anchor="middle" textLength="13.5" lengthAdjust="spacingAndGlyphs" transform="rotate(-90 658.1 199.5)" stroke="#16898a" stroke-width="0.15">SHIELD</text>
<text x="668.6" y="194.2" font-size="5.56" fill="#16898a" text-anchor="middle" textLength="13" lengthAdjust="spacingAndGlyphs" transform="rotate(-90 668.6 192.2)" stroke="#16898a" stroke-width="0.2">RJ12</text>
<text x="676.2" y="192" font-size="5.56" fill="#16898a" text-anchor="middle" textLength="5.5" lengthAdjust="spacingAndGlyphs" transform="rotate(-90 676.2 190)" stroke="#16898a" stroke-width="0.2">J3</text>
<circle cx="745.1" cy="114.1" r="2.2" stroke="#951c28" stroke-width="1" fill="none"/>
<circle cx="754.6" cy="114.1" r="2.2" stroke="#951c28" stroke-width="1" fill="none"/>
<circle cx="764" cy="114.1" r="2.2" stroke="#951c28" stroke-width="1" fill="none"/>
<path d="M745.9,111.8 A4.4,3.6 0 0 1 753.8,111.8 M755.4,111.8 A4.4,3.6 0 0 1 763.2,111.8" stroke="#951c28" stroke-width="1.1" fill="none"/>
<line x1="736" y1="114.1" x2="742.9" y2="114.1" stroke="#951c28" stroke-width="1"/>
<line x1="766.2" y1="114.1" x2="773.3" y2="114.1" stroke="#951c28" stroke-width="1"/>
<polyline points="730.9,114.1 736,114.1" stroke="#2a8f32" stroke-width="1" fill="none" stroke-linejoin="round"/>
<polyline points="773.3,114.1 778.2,114.1" stroke="#2a8f32" stroke-width="1" fill="none" stroke-linejoin="round"/>
<text x="738.4" y="112.6" font-size="5.28" fill="#951c28" text-anchor="middle" stroke="#951c28" stroke-width="0.19">1</text>
<text x="770.4" y="112.4" font-size="5.28" fill="#951c28" text-anchor="middle" stroke="#951c28" stroke-width="0.19">3</text>
<text x="751.2" y="121.2" font-size="5.28" fill="#951c28" text-anchor="middle" transform="rotate(-90 751.2 119.3)" stroke="#951c28" stroke-width="0.19">2</text>
<line x1="754.6" y1="116.3" x2="754.6" y2="121.9" stroke="#951c28" stroke-width="1"/>
<polyline points="754.6,121.9 754.6,125.5" stroke="#2a8f32" stroke-width="1" fill="none" stroke-linejoin="round"/>
<path d="M707.3,111.5 L728.9,111.5 L730.9,114.1 L728.9,116.7 L707.3,116.7 Q706.7,116.7 706.7,116.1 L706.7,112.1 Q706.7,111.5 707.3,111.5 Z" stroke="#951c28" stroke-width="1" fill="none" stroke-linejoin="round"/>
<text x="718.8" y="115.56" font-size="4.04" fill="#951c28" text-anchor="middle" textLength="21" lengthAdjust="spacingAndGlyphs" font-weight="bold" stroke="#951c28" stroke-width="0.45">RS485-A</text>
<path d="M802.4,111.5 L780.2,111.5 L778.2,114.1 L780.2,116.7 L802.4,116.7 Q803,116.7 803,116.1 L803,112.1 Q803,111.5 802.4,111.5 Z" stroke="#951c28" stroke-width="1" fill="none" stroke-linejoin="round"/>
<text x="790.6" y="115.56" font-size="4.04" fill="#951c28" text-anchor="middle" textLength="21.6" lengthAdjust="spacingAndGlyphs" font-weight="bold" stroke="#951c28" stroke-width="0.45">RS485-B</text>
<path d="M751.9,149.4 L751.9,127.5 L754.6,125.5 L757.3,127.5 L757.3,149.4 Q757.3,150 756.7,150 L752.5,150 Q751.9,150 751.9,149.4 Z" stroke="#951c28" stroke-width="1" fill="none" stroke-linejoin="round"/>
<text x="754.6" y="139.26" font-size="4.2" fill="#951c28" text-anchor="middle" textLength="21.3" lengthAdjust="spacingAndGlyphs" font-weight="bold" transform="rotate(-90 754.6 137.75)" stroke="#951c28" stroke-width="0.45">PHONE-A</text>
<text x="754.8" y="97.85" font-size="5.97" fill="#16898a" text-anchor="middle" textLength="10.5" lengthAdjust="spacingAndGlyphs" stroke="#16898a" stroke-width="0.21">JP2</text>
<text x="754.4" y="105.05" font-size="5.97" fill="#16898a" text-anchor="middle" textLength="45.5" lengthAdjust="spacingAndGlyphs" stroke="#16898a" stroke-width="0.21">Jumper_NC_Dual</text>
<circle cx="745.1" cy="179.6" r="2.2" stroke="#951c28" stroke-width="1" fill="none"/>
<circle cx="754.6" cy="179.6" r="2.2" stroke="#951c28" stroke-width="1" fill="none"/>
<circle cx="764" cy="179.6" r="2.2" stroke="#951c28" stroke-width="1" fill="none"/>
<path d="M745.9,177.3 A4.4,3.6 0 0 1 753.8,177.3 M755.4,177.3 A4.4,3.6 0 0 1 763.2,177.3" stroke="#951c28" stroke-width="1.1" fill="none"/>
<line x1="736" y1="179.6" x2="742.9" y2="179.6" stroke="#951c28" stroke-width="1"/>
<line x1="766.2" y1="179.6" x2="773.3" y2="179.6" stroke="#951c28" stroke-width="1"/>
<polyline points="730.9,179.6 736,179.6" stroke="#2a8f32" stroke-width="1" fill="none" stroke-linejoin="round"/>
<polyline points="773.3,179.6 778.2,179.6" stroke="#2a8f32" stroke-width="1" fill="none" stroke-linejoin="round"/>
<text x="738.4" y="178.1" font-size="5.28" fill="#951c28" text-anchor="middle" stroke="#951c28" stroke-width="0.19">1</text>
<text x="770.4" y="177.9" font-size="5.28" fill="#951c28" text-anchor="middle" stroke="#951c28" stroke-width="0.19">3</text>
<text x="751.2" y="186.7" font-size="5.28" fill="#951c28" text-anchor="middle" transform="rotate(-90 751.2 184.8)" stroke="#951c28" stroke-width="0.19">2</text>
<line x1="754.6" y1="181.8" x2="754.6" y2="187.4" stroke="#951c28" stroke-width="1"/>
<polyline points="754.6,187.4 754.6,191" stroke="#2a8f32" stroke-width="1" fill="none" stroke-linejoin="round"/>
<path d="M707.3,177 L728.9,177 L730.9,179.6 L728.9,182.2 L707.3,182.2 Q706.7,182.2 706.7,181.6 L706.7,177.6 Q706.7,177 707.3,177 Z" stroke="#951c28" stroke-width="1" fill="none" stroke-linejoin="round"/>
<text x="718.8" y="181.06" font-size="4.04" fill="#951c28" text-anchor="middle" textLength="21" lengthAdjust="spacingAndGlyphs" font-weight="bold" stroke="#951c28" stroke-width="0.45">RS485-A</text>
<path d="M802.4,177 L780.2,177 L778.2,179.6 L780.2,182.2 L802.4,182.2 Q803,182.2 803,181.6 L803,177.6 Q803,177 802.4,177 Z" stroke="#951c28" stroke-width="1" fill="none" stroke-linejoin="round"/>
<text x="790.6" y="181.06" font-size="4.04" fill="#951c28" text-anchor="middle" textLength="21.6" lengthAdjust="spacingAndGlyphs" font-weight="bold" stroke="#951c28" stroke-width="0.45">RS485-B</text>
<path d="M751.9,216 L751.9,193 L754.6,191 L757.3,193 L757.3,216 Q757.3,216.6 756.7,216.6 L752.5,216.6 Q751.9,216.6 751.9,216 Z" stroke="#951c28" stroke-width="1" fill="none" stroke-linejoin="round"/>
<text x="754.6" y="205.31" font-size="4.2" fill="#951c28" text-anchor="middle" textLength="22.4" lengthAdjust="spacingAndGlyphs" font-weight="bold" transform="rotate(-90 754.6 203.8)" stroke="#951c28" stroke-width="0.45">PHONE-B</text>
<text x="754.8" y="163.95" font-size="5.97" fill="#16898a" text-anchor="middle" textLength="10.5" lengthAdjust="spacingAndGlyphs" stroke="#16898a" stroke-width="0.21">JP3</text>
<text x="754.4" y="171.15" font-size="5.97" fill="#16898a" text-anchor="middle" textLength="45.5" lengthAdjust="spacingAndGlyphs" stroke="#16898a" stroke-width="0.21">Jumper_NC_Dual</text>
<rect x="731" y="256.4" width="8.6" height="31.7" stroke="#951c28" stroke-width="1" fill="none" rx="0"/>
<line x1="721" y1="261" x2="736" y2="261" stroke="#951c28" stroke-width="1"/>
<line x1="731" y1="261" x2="736" y2="261" stroke="#951c28" stroke-width="1.6"/>
<text x="726" y="260.05" font-size="5.42" fill="#951c28" text-anchor="middle" stroke="#951c28" stroke-width="0.2">1</text>
<polyline points="711,261 721,261" stroke="#2a8f32" stroke-width="1" fill="none" stroke-linejoin="round"/>
<line x1="721" y1="268.73" x2="736" y2="268.73" stroke="#951c28" stroke-width="1"/>
<line x1="731" y1="268.73" x2="736" y2="268.73" stroke="#951c28" stroke-width="1.6"/>
<text x="726" y="267.78" font-size="5.42" fill="#951c28" text-anchor="middle" stroke="#951c28" stroke-width="0.2">2</text>
<polyline points="711,268.73 721,268.73" stroke="#2a8f32" stroke-width="1" fill="none" stroke-linejoin="round"/>
<line x1="721" y1="276.45" x2="736" y2="276.45" stroke="#951c28" stroke-width="1"/>
<line x1="731" y1="276.45" x2="736" y2="276.45" stroke="#951c28" stroke-width="1.6"/>
<text x="726" y="275.5" font-size="5.42" fill="#951c28" text-anchor="middle" stroke="#951c28" stroke-width="0.2">3</text>
<polyline points="711,276.45 721,276.45" stroke="#2a8f32" stroke-width="1" fill="none" stroke-linejoin="round"/>
<line x1="721" y1="284.18" x2="736" y2="284.18" stroke="#951c28" stroke-width="1"/>
<line x1="731" y1="284.18" x2="736" y2="284.18" stroke="#951c28" stroke-width="1.6"/>
<text x="726" y="283.23" font-size="5.42" fill="#951c28" text-anchor="middle" stroke="#951c28" stroke-width="0.2">4</text>
<polyline points="711,284.18 721,284.18" stroke="#2a8f32" stroke-width="1" fill="none" stroke-linejoin="round"/>
<line x1="711" y1="261" x2="708.6" y2="261" stroke="#951c28" stroke-width="1"/>
<polygon points="708.6,257.3 708.6,264.7 704.8,261" stroke="#951c28" stroke-width="1" fill="none" stroke-linejoin="round"/>
<line x1="711" y1="268.73" x2="703.2" y2="268.73" stroke="#951c28" stroke-width="1"/>
<polyline points="707.6,266.13 703.2,268.73 707.6,271.33" stroke="#951c28" stroke-width="1" fill="none" stroke-linejoin="round"/>
<text x="695.9" y="262.6" font-size="5.28" fill="#16898a" text-anchor="middle" textLength="11" lengthAdjust="spacingAndGlyphs" stroke="#16898a" stroke-width="0.19">GND</text>
<text x="696.3" y="269.4" font-size="5.28" fill="#16898a" text-anchor="middle" textLength="10.5" lengthAdjust="spacingAndGlyphs" stroke="#16898a" stroke-width="0.19">+5V</text>
<path d="M699.9,273.85 L709,273.85 L711,276.45 L709,279.05 L699.9,279.05 Q699.3,279.05 699.3,278.45 L699.3,274.45 Q699.3,273.85 699.9,273.85 Z" stroke="#951c28" stroke-width="1" fill="none" stroke-linejoin="round"/>
<text x="705.15" y="277.91" font-size="4.04" fill="#951c28" text-anchor="middle" textLength="8.5" lengthAdjust="spacingAndGlyphs" font-weight="bold" stroke="#951c28" stroke-width="0.45">SCK</text>
<path d="M699.9,281.58 L709,281.58 L711,284.18 L709,286.78 L699.9,286.78 Q699.3,286.78 699.3,286.18 L699.3,282.18 Q699.3,281.58 699.9,281.58 Z" stroke="#951c28" stroke-width="1" fill="none" stroke-linejoin="round"/>
<text x="705.15" y="285.64" font-size="4.04" fill="#951c28" text-anchor="middle" textLength="8.5" lengthAdjust="spacingAndGlyphs" font-weight="bold" stroke="#951c28" stroke-width="0.45">SDA</text>
<text x="742.2" y="270.95" font-size="5.97" fill="#16898a" text-anchor="start" textLength="6.5" lengthAdjust="spacingAndGlyphs" stroke="#16898a" stroke-width="0.21">P2</text>
<text x="742.2" y="278.65" font-size="5.97" fill="#16898a" text-anchor="start" textLength="36.8" lengthAdjust="spacingAndGlyphs" stroke="#16898a" stroke-width="0.21">CONN_01X04</text>
<rect x="604.1" y="257.35" width="8.2" height="23.36" stroke="#951c28" stroke-width="1" fill="none" rx="0"/>
<line x1="592.9" y1="260.95" x2="608.8" y2="260.95" stroke="#951c28" stroke-width="1"/>
<line x1="604.1" y1="260.95" x2="608.8" y2="260.95" stroke="#951c28" stroke-width="1.6"/>
<text x="598.6" y="260" font-size="5.42" fill="#951c28" text-anchor="middle" stroke="#951c28" stroke-width="0.2">1</text>
<polyline points="585.2,260.95 592.9,260.95" stroke="#2a8f32" stroke-width="1" fill="none" stroke-linejoin="round"/>
<line x1="592.9" y1="268.68" x2="608.8" y2="268.68" stroke="#951c28" stroke-width="1"/>
<line x1="604.1" y1="268.68" x2="608.8" y2="268.68" stroke="#951c28" stroke-width="1.6"/>
<text x="598.6" y="267.73" font-size="5.42" fill="#951c28" text-anchor="middle" stroke="#951c28" stroke-width="0.2">2</text>
<polyline points="585.2,268.68 592.9,268.68" stroke="#2a8f32" stroke-width="1" fill="none" stroke-linejoin="round"/>
<line x1="592.9" y1="276.41" x2="608.8" y2="276.41" stroke="#951c28" stroke-width="1"/>
<line x1="604.1" y1="276.41" x2="608.8" y2="276.41" stroke="#951c28" stroke-width="1.6"/>
<text x="598.6" y="275.46" font-size="5.42" fill="#951c28" text-anchor="middle" stroke="#951c28" stroke-width="0.2">3</text>
<polyline points="585.2,276.41 592.9,276.41" stroke="#2a8f32" stroke-width="1" fill="none" stroke-linejoin="round"/>
<path d="M575.5,258.35 L583.2,258.35 L585.2,260.95 L583.2,263.55 L575.5,263.55 Q574.9,263.55 574.9,262.95 L574.9,258.95 Q574.9,258.35 575.5,258.35 Z" stroke="#951c28" stroke-width="1" fill="none" stroke-linejoin="round"/>
<text x="580.05" y="262.41" font-size="4.04" fill="#951c28" text-anchor="middle" textLength="7.1" lengthAdjust="spacingAndGlyphs" font-weight="bold" stroke="#951c28" stroke-width="0.45">D10</text>
<line x1="585.2" y1="268.68" x2="577" y2="268.68" stroke="#951c28" stroke-width="1"/>
<polyline points="581.4,266.08 577,268.68 581.4,271.28" stroke="#951c28" stroke-width="1" fill="none" stroke-linejoin="round"/>
<line x1="585.2" y1="276.41" x2="581" y2="276.41" stroke="#951c28" stroke-width="1"/>
<polygon points="581,272.71 581,280.11 577,276.41" stroke="#951c28" stroke-width="1" fill="none" stroke-linejoin="round"/>
<text x="569.2" y="269.78" font-size="5.28" fill="#16898a" text-anchor="middle" textLength="11.5" lengthAdjust="spacingAndGlyphs" stroke="#16898a" stroke-width="0.19">+5V</text>
<text x="569.2" y="278.31" font-size="5.28" fill="#16898a" text-anchor="middle" textLength="11.5" lengthAdjust="spacingAndGlyphs" stroke="#16898a" stroke-width="0.19">GND</text>
<text x="614.3" y="267.6" font-size="5.97" fill="#16898a" text-anchor="start" textLength="6.4" lengthAdjust="spacingAndGlyphs" stroke="#16898a" stroke-width="0.21">P1</text>
<text x="614.3" y="275.2" font-size="5.97" fill="#16898a" text-anchor="start" textLength="37.5" lengthAdjust="spacingAndGlyphs" stroke="#16898a" stroke-width="0.21">CONN_01X03</text>
<rect x="604.1" y="288.26" width="8.2" height="23.36" stroke="#951c28" stroke-width="1" fill="none" rx="0"/>
<line x1="592.9" y1="291.86" x2="608.8" y2="291.86" stroke="#951c28" stroke-width="1"/>
<line x1="604.1" y1="291.86" x2="608.8" y2="291.86" stroke="#951c28" stroke-width="1.6"/>
<text x="598.6" y="290.91" font-size="5.42" fill="#951c28" text-anchor="middle" stroke="#951c28" stroke-width="0.2">1</text>
<polyline points="585.2,291.86 592.9,291.86" stroke="#2a8f32" stroke-width="1" fill="none" stroke-linejoin="round"/>
<line x1="592.9" y1="299.59" x2="608.8" y2="299.59" stroke="#951c28" stroke-width="1"/>
<line x1="604.1" y1="299.59" x2="608.8" y2="299.59" stroke="#951c28" stroke-width="1.6"/>
<text x="598.6" y="298.64" font-size="5.42" fill="#951c28" text-anchor="middle" stroke="#951c28" stroke-width="0.2">2</text>
<polyline points="585.2,299.59 592.9,299.59" stroke="#2a8f32" stroke-width="1" fill="none" stroke-linejoin="round"/>
<line x1="592.9" y1="307.32" x2="608.8" y2="307.32" stroke="#951c28" stroke-width="1"/>
<line x1="604.1" y1="307.32" x2="608.8" y2="307.32" stroke="#951c28" stroke-width="1.6"/>
<text x="598.6" y="306.37" font-size="5.42" fill="#951c28" text-anchor="middle" stroke="#951c28" stroke-width="0.2">3</text>
<polyline points="585.2,307.32 592.9,307.32" stroke="#2a8f32" stroke-width="1" fill="none" stroke-linejoin="round"/>
<path d="M577.1,289.26 L583.2,289.26 L585.2,291.86 L583.2,294.46 L577.1,294.46 Q576.5,294.46 576.5,293.86 L576.5,289.86 Q576.5,289.26 577.1,289.26 Z" stroke="#951c28" stroke-width="1" fill="none" stroke-linejoin="round"/>
<text x="580.85" y="293.31" font-size="4.04" fill="#951c28" text-anchor="middle" textLength="5.5" lengthAdjust="spacingAndGlyphs" font-weight="bold" stroke="#951c28" stroke-width="0.45">D4</text>
<line x1="585.2" y1="299.59" x2="577" y2="299.59" stroke="#951c28" stroke-width="1"/>
<polyline points="581.4,296.99 577,299.59 581.4,302.19" stroke="#951c28" stroke-width="1" fill="none" stroke-linejoin="round"/>
<line x1="585.2" y1="307.32" x2="581" y2="307.32" stroke="#951c28" stroke-width="1"/>
<polygon points="581,303.62 581,311.02 577,307.32" stroke="#951c28" stroke-width="1" fill="none" stroke-linejoin="round"/>
<text x="569.2" y="300.69" font-size="5.28" fill="#16898a" text-anchor="middle" textLength="11.5" lengthAdjust="spacingAndGlyphs" stroke="#16898a" stroke-width="0.19">+5V</text>
<text x="569.2" y="309.22" font-size="5.28" fill="#16898a" text-anchor="middle" textLength="11.5" lengthAdjust="spacingAndGlyphs" stroke="#16898a" stroke-width="0.19">GND</text>
<text x="614.3" y="298.51" font-size="5.97" fill="#16898a" text-anchor="start" textLength="6.4" lengthAdjust="spacingAndGlyphs" stroke="#16898a" stroke-width="0.21">P3</text>
<text x="614.3" y="306.11" font-size="5.97" fill="#16898a" text-anchor="start" textLength="37.5" lengthAdjust="spacingAndGlyphs" stroke="#16898a" stroke-width="0.21">CONN_01X03</text>
<rect x="604.1" y="319.17" width="8.2" height="23.36" stroke="#951c28" stroke-width="1" fill="none" rx="0"/>
<line x1="592.9" y1="322.77" x2="608.8" y2="322.77" stroke="#951c28" stroke-width="1"/>
<line x1="604.1" y1="322.77" x2="608.8" y2="322.77" stroke="#951c28" stroke-width="1.6"/>
<text x="598.6" y="321.82" font-size="5.42" fill="#951c28" text-anchor="middle" stroke="#951c28" stroke-width="0.2">1</text>
<polyline points="585.2,322.77 592.9,322.77" stroke="#2a8f32" stroke-width="1" fill="none" stroke-linejoin="round"/>
<line x1="592.9" y1="330.5" x2="608.8" y2="330.5" stroke="#951c28" stroke-width="1"/>
<line x1="604.1" y1="330.5" x2="608.8" y2="330.5" stroke="#951c28" stroke-width="1.6"/>
<text x="598.6" y="329.55" font-size="5.42" fill="#951c28" text-anchor="middle" stroke="#951c28" stroke-width="0.2">2</text>
<polyline points="585.2,330.5 592.9,330.5" stroke="#2a8f32" stroke-width="1" fill="none" stroke-linejoin="round"/>
<line x1="592.9" y1="338.23" x2="608.8" y2="338.23" stroke="#951c28" stroke-width="1"/>
<line x1="604.1" y1="338.23" x2="608.8" y2="338.23" stroke="#951c28" stroke-width="1.6"/>
<text x="598.6" y="337.28" font-size="5.42" fill="#951c28" text-anchor="middle" stroke="#951c28" stroke-width="0.2">3</text>
<polyline points="585.2,338.23 592.9,338.23" stroke="#2a8f32" stroke-width="1" fill="none" stroke-linejoin="round"/>
<path d="M577.1,320.17 L583.2,320.17 L585.2,322.77 L583.2,325.37 L577.1,325.37 Q576.5,325.37 576.5,324.77 L576.5,320.77 Q576.5,320.17 577.1,320.17 Z" stroke="#951c28" stroke-width="1" fill="none" stroke-linejoin="round"/>
<text x="580.85" y="324.22" font-size="4.04" fill="#951c28" text-anchor="middle" textLength="5.5" lengthAdjust="spacingAndGlyphs" font-weight="bold" stroke="#951c28" stroke-width="0.45">D8</text>
<line x1="585.2" y1="330.5" x2="577" y2="330.5" stroke="#951c28" stroke-width="1"/>
<polyline points="581.4,327.9 577,330.5 581.4,333.1" stroke="#951c28" stroke-width="1" fill="none" stroke-linejoin="round"/>
<line x1="585.2" y1="338.23" x2="581" y2="338.23" stroke="#951c28" stroke-width="1"/>
<polygon points="581,334.53 581,341.93 577,338.23" stroke="#951c28" stroke-width="1" fill="none" stroke-linejoin="round"/>
<text x="569.2" y="331.6" font-size="5.28" fill="#16898a" text-anchor="middle" textLength="11.5" lengthAdjust="spacingAndGlyphs" stroke="#16898a" stroke-width="0.19">+5V</text>
<text x="569.2" y="340.13" font-size="5.28" fill="#16898a" text-anchor="middle" textLength="11.5" lengthAdjust="spacingAndGlyphs" stroke="#16898a" stroke-width="0.19">GND</text>
<text x="614.3" y="329.42" font-size="5.97" fill="#16898a" text-anchor="start" textLength="6.4" lengthAdjust="spacingAndGlyphs" stroke="#16898a" stroke-width="0.21">P4</text>
<text x="614.3" y="337.02" font-size="5.97" fill="#16898a" text-anchor="start" textLength="37.5" lengthAdjust="spacingAndGlyphs" stroke="#16898a" stroke-width="0.21">CONN_01X03</text>
<rect x="604.1" y="350.07" width="8.2" height="23.36" stroke="#951c28" stroke-width="1" fill="none" rx="0"/>
<line x1="592.9" y1="353.67" x2="608.8" y2="353.67" stroke="#951c28" stroke-width="1"/>
<line x1="604.1" y1="353.67" x2="608.8" y2="353.67" stroke="#951c28" stroke-width="1.6"/>
<text x="598.6" y="352.72" font-size="5.42" fill="#951c28" text-anchor="middle" stroke="#951c28" stroke-width="0.2">1</text>
<polyline points="585.2,353.67 592.9,353.67" stroke="#2a8f32" stroke-width="1" fill="none" stroke-linejoin="round"/>
<line x1="592.9" y1="361.4" x2="608.8" y2="361.4" stroke="#951c28" stroke-width="1"/>
<line x1="604.1" y1="361.4" x2="608.8" y2="361.4" stroke="#951c28" stroke-width="1.6"/>
<text x="598.6" y="360.45" font-size="5.42" fill="#951c28" text-anchor="middle" stroke="#951c28" stroke-width="0.2">2</text>
<polyline points="585.2,361.4 592.9,361.4" stroke="#2a8f32" stroke-width="1" fill="none" stroke-linejoin="round"/>
<line x1="592.9" y1="369.13" x2="608.8" y2="369.13" stroke="#951c28" stroke-width="1"/>
<line x1="604.1" y1="369.13" x2="608.8" y2="369.13" stroke="#951c28" stroke-width="1.6"/>
<text x="598.6" y="368.18" font-size="5.42" fill="#951c28" text-anchor="middle" stroke="#951c28" stroke-width="0.2">3</text>
<polyline points="585.2,369.13 592.9,369.13" stroke="#2a8f32" stroke-width="1" fill="none" stroke-linejoin="round"/>
<path d="M577.1,351.07 L583.2,351.07 L585.2,353.67 L583.2,356.27 L577.1,356.27 Q576.5,356.27 576.5,355.67 L576.5,351.67 Q576.5,351.07 577.1,351.07 Z" stroke="#951c28" stroke-width="1" fill="none" stroke-linejoin="round"/>
<text x="580.85" y="355.13" font-size="4.04" fill="#951c28" text-anchor="middle" textLength="5.5" lengthAdjust="spacingAndGlyphs" font-weight="bold" stroke="#951c28" stroke-width="0.45">D9</text>
<line x1="585.2" y1="361.4" x2="577" y2="361.4" stroke="#951c28" stroke-width="1"/>
<polyline points="581.4,358.8 577,361.4 581.4,364" stroke="#951c28" stroke-width="1" fill="none" stroke-linejoin="round"/>
<line x1="585.2" y1="369.13" x2="581" y2="369.13" stroke="#951c28" stroke-width="1"/>
<polygon points="581,365.43 581,372.83 577,369.13" stroke="#951c28" stroke-width="1" fill="none" stroke-linejoin="round"/>
<text x="569.2" y="362.5" font-size="5.28" fill="#16898a" text-anchor="middle" textLength="11.5" lengthAdjust="spacingAndGlyphs" stroke="#16898a" stroke-width="0.19">+5V</text>
<text x="569.2" y="371.03" font-size="5.28" fill="#16898a" text-anchor="middle" textLength="11.5" lengthAdjust="spacingAndGlyphs" stroke="#16898a" stroke-width="0.19">GND</text>
<text x="614.3" y="360.32" font-size="5.97" fill="#16898a" text-anchor="start" textLength="6.4" lengthAdjust="spacingAndGlyphs" stroke="#16898a" stroke-width="0.21">P5</text>
<text x="614.3" y="367.92" font-size="5.97" fill="#16898a" text-anchor="start" textLength="37.5" lengthAdjust="spacingAndGlyphs" stroke="#16898a" stroke-width="0.21">CONN_01X03</text>
<rect x="604.1" y="380.98" width="8.2" height="23.36" stroke="#951c28" stroke-width="1" fill="none" rx="0"/>
<line x1="592.9" y1="384.58" x2="608.8" y2="384.58" stroke="#951c28" stroke-width="1"/>
<line x1="604.1" y1="384.58" x2="608.8" y2="384.58" stroke="#951c28" stroke-width="1.6"/>
<text x="598.6" y="383.63" font-size="5.42" fill="#951c28" text-anchor="middle" stroke="#951c28" stroke-width="0.2">1</text>
<polyline points="585.2,384.58 592.9,384.58" stroke="#2a8f32" stroke-width="1" fill="none" stroke-linejoin="round"/>
<line x1="592.9" y1="392.31" x2="608.8" y2="392.31" stroke="#951c28" stroke-width="1"/>
<line x1="604.1" y1="392.31" x2="608.8" y2="392.31" stroke="#951c28" stroke-width="1.6"/>
<text x="598.6" y="391.36" font-size="5.42" fill="#951c28" text-anchor="middle" stroke="#951c28" stroke-width="0.2">2</text>
<polyline points="585.2,392.31 592.9,392.31" stroke="#2a8f32" stroke-width="1" fill="none" stroke-linejoin="round"/>
<line x1="592.9" y1="400.04" x2="608.8" y2="400.04" stroke="#951c28" stroke-width="1"/>
<line x1="604.1" y1="400.04" x2="608.8" y2="400.04" stroke="#951c28" stroke-width="1.6"/>
<text x="598.6" y="399.09" font-size="5.42" fill="#951c28" text-anchor="middle" stroke="#951c28" stroke-width="0.2">3</text>
<polyline points="585.2,400.04 592.9,400.04" stroke="#2a8f32" stroke-width="1" fill="none" stroke-linejoin="round"/>
<path d="M574.6,381.98 L583.2,381.98 L585.2,384.58 L583.2,387.18 L574.6,387.18 Q574,387.18 574,386.58 L574,382.58 Q574,381.98 574.6,381.98 Z" stroke="#951c28" stroke-width="1" fill="none" stroke-linejoin="round"/>
<text x="579.6" y="386.04" font-size="4.04" fill="#951c28" text-anchor="middle" textLength="8" lengthAdjust="spacingAndGlyphs" font-weight="bold" stroke="#951c28" stroke-width="0.45">D12</text>
<line x1="585.2" y1="392.31" x2="577" y2="392.31" stroke="#951c28" stroke-width="1"/>
<polyline points="581.4,389.71 577,392.31 581.4,394.91" stroke="#951c28" stroke-width="1" fill="none" stroke-linejoin="round"/>
<line x1="585.2" y1="400.04" x2="581" y2="400.04" stroke="#951c28" stroke-width="1"/>
<polygon points="581,396.34 581,403.74 577,400.04" stroke="#951c28" stroke-width="1" fill="none" stroke-linejoin="round"/>
<text x="569.2" y="393.41" font-size="5.28" fill="#16898a" text-anchor="middle" textLength="11.5" lengthAdjust="spacingAndGlyphs" stroke="#16898a" stroke-width="0.19">+5V</text>
<text x="569.2" y="401.94" font-size="5.28" fill="#16898a" text-anchor="middle" textLength="11.5" lengthAdjust="spacingAndGlyphs" stroke="#16898a" stroke-width="0.19">GND</text>
<text x="614.3" y="391.23" font-size="5.97" fill="#16898a" text-anchor="start" textLength="6.4" lengthAdjust="spacingAndGlyphs" stroke="#16898a" stroke-width="0.21">P6</text>
<text x="614.3" y="398.83" font-size="5.97" fill="#16898a" text-anchor="start" textLength="37.5" lengthAdjust="spacingAndGlyphs" stroke="#16898a" stroke-width="0.21">CONN_01X03</text>
<rect x="604.1" y="411.89" width="8.2" height="23.36" stroke="#951c28" stroke-width="1" fill="none" rx="0"/>
<line x1="592.9" y1="415.49" x2="608.8" y2="415.49" stroke="#951c28" stroke-width="1"/>
<line x1="604.1" y1="415.49" x2="608.8" y2="415.49" stroke="#951c28" stroke-width="1.6"/>
<text x="598.6" y="414.54" font-size="5.42" fill="#951c28" text-anchor="middle" stroke="#951c28" stroke-width="0.2">1</text>
<polyline points="585.2,415.49 592.9,415.49" stroke="#2a8f32" stroke-width="1" fill="none" stroke-linejoin="round"/>
<line x1="592.9" y1="423.22" x2="608.8" y2="423.22" stroke="#951c28" stroke-width="1"/>
<line x1="604.1" y1="423.22" x2="608.8" y2="423.22" stroke="#951c28" stroke-width="1.6"/>
<text x="598.6" y="422.27" font-size="5.42" fill="#951c28" text-anchor="middle" stroke="#951c28" stroke-width="0.2">2</text>
<polyline points="585.2,423.22 592.9,423.22" stroke="#2a8f32" stroke-width="1" fill="none" stroke-linejoin="round"/>
<line x1="592.9" y1="430.95" x2="608.8" y2="430.95" stroke="#951c28" stroke-width="1"/>
<line x1="604.1" y1="430.95" x2="608.8" y2="430.95" stroke="#951c28" stroke-width="1.6"/>
<text x="598.6" y="430" font-size="5.42" fill="#951c28" text-anchor="middle" stroke="#951c28" stroke-width="0.2">3</text>
<polyline points="585.2,430.95 592.9,430.95" stroke="#2a8f32" stroke-width="1" fill="none" stroke-linejoin="round"/>
<path d="M576.4,412.89 L583.2,412.89 L585.2,415.49 L583.2,418.09 L576.4,418.09 Q575.8,418.09 575.8,417.49 L575.8,413.49 Q575.8,412.89 576.4,412.89 Z" stroke="#951c28" stroke-width="1" fill="none" stroke-linejoin="round"/>
<text x="580.5" y="416.95" font-size="4.04" fill="#951c28" text-anchor="middle" textLength="6.2" lengthAdjust="spacingAndGlyphs" font-weight="bold" stroke="#951c28" stroke-width="0.45">A0</text>
<line x1="585.2" y1="423.22" x2="577" y2="423.22" stroke="#951c28" stroke-width="1"/>
<polyline points="581.4,420.62 577,423.22 581.4,425.82" stroke="#951c28" stroke-width="1" fill="none" stroke-linejoin="round"/>
<line x1="585.2" y1="430.95" x2="581" y2="430.95" stroke="#951c28" stroke-width="1"/>
<polygon points="581,427.25 581,434.65 577,430.95" stroke="#951c28" stroke-width="1" fill="none" stroke-linejoin="round"/>
<text x="569.2" y="424.32" font-size="5.28" fill="#16898a" text-anchor="middle" textLength="11.5" lengthAdjust="spacingAndGlyphs" stroke="#16898a" stroke-width="0.19">+5V</text>
<text x="569.2" y="432.85" font-size="5.28" fill="#16898a" text-anchor="middle" textLength="11.5" lengthAdjust="spacingAndGlyphs" stroke="#16898a" stroke-width="0.19">GND</text>
<text x="614.3" y="422.14" font-size="5.97" fill="#16898a" text-anchor="start" textLength="6.4" lengthAdjust="spacingAndGlyphs" stroke="#16898a" stroke-width="0.21">P7</text>
<text x="614.3" y="429.74" font-size="5.97" fill="#16898a" text-anchor="start" textLength="37.5" lengthAdjust="spacingAndGlyphs" stroke="#16898a" stroke-width="0.21">CONN_01X03</text>
</svg></body></html>
